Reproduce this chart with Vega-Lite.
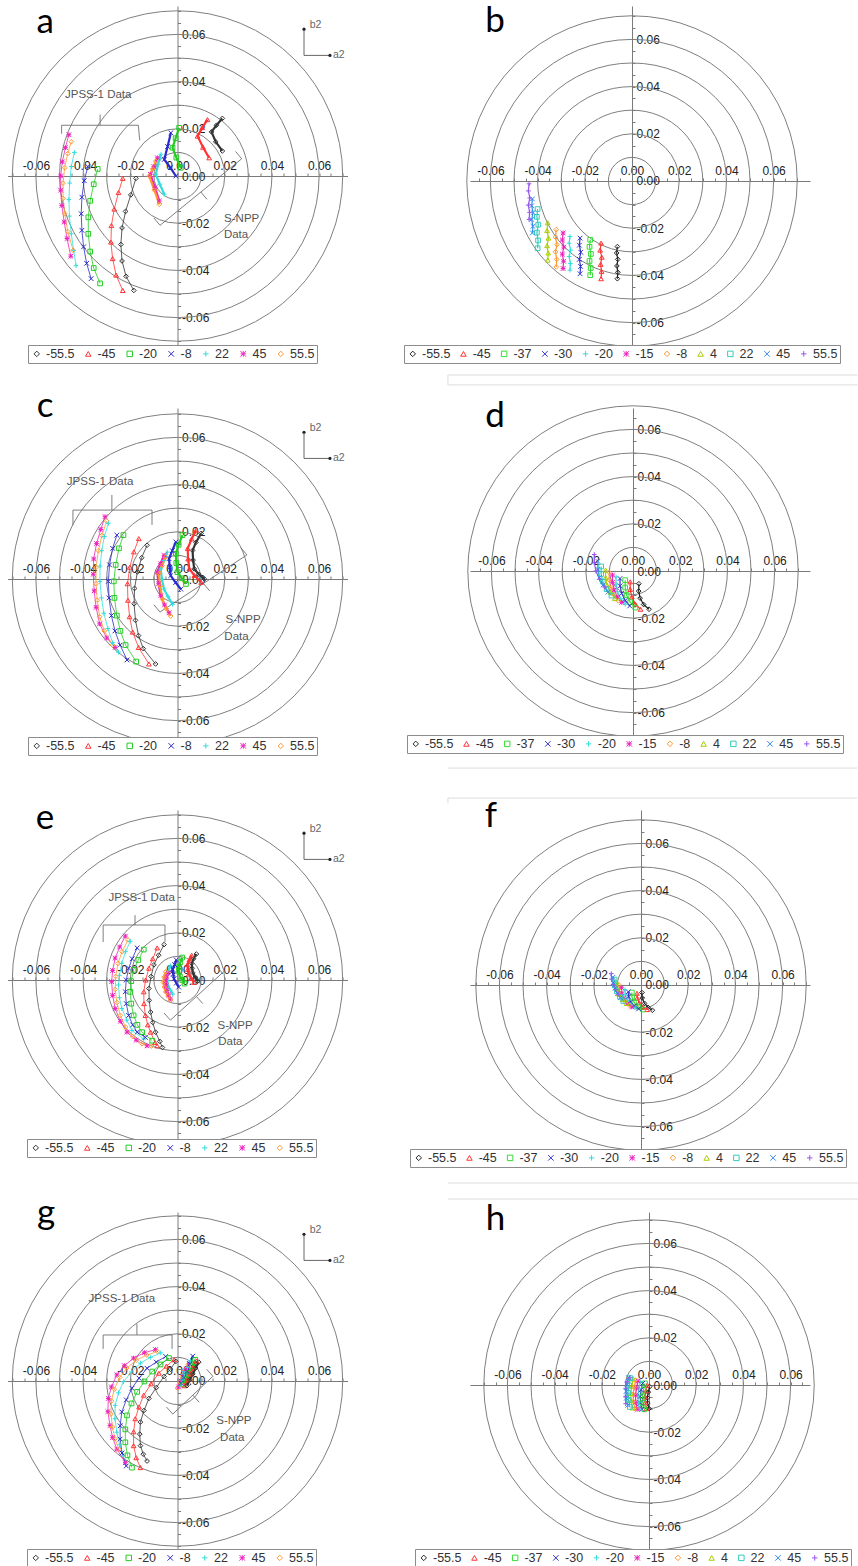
{
"$schema":"https://vega.github.io/schema/vega-lite/v6.json",
"background":"white",
"padding":{"left":7.5,"top":4,"right":0,"bottom":0},
"config":{"view":{"stroke":null},"axis":{"grid":false}},
"datasets":{
"rings":[{"x":0,"y":0,"r":1},{"x":0,"y":0,"r":2},{"x":0,"y":0,"r":3},{"x":0,"y":0,"r":4},{"x":0,"y":0,"r":5},{"x":0,"y":0,"r":6},{"x":0,"y":0,"r":7}],
"letters":[{"p":"a","t":"a","x":-5.61,"y":6.05},{"p":"b","t":"b","x":-5.8,"y":6.3},{"p":"c","t":"c","x":-5.61,"y":6.86},{"p":"d","t":"d","x":-5.85,"y":6.1},{"p":"e","t":"e","x":-5.61,"y":6.4},{"p":"f","t":"f","x":-6.36,"y":6.7},{"p":"g","t":"g","x":-5.57,"y":6.65},{"p":"h","t":"h","x":-6.5,"y":6.57}],
"notes":[
{"p":"a","t":"JPSS-1 Data","x":-3.36,"y":3.45},{"p":"a","t":"S-NPP","x":2.72,"y":-1.81},{"p":"a","t":"Data","x":2.48,"y":-2.51},
{"p":"c","t":"JPSS-1 Data","x":-3.28,"y":4.11},{"p":"c","t":"S-NPP","x":2.78,"y":-1.75},{"p":"c","t":"Data","x":2.5,"y":-2.46},
{"p":"e","t":"JPSS-1 Data","x":-1.52,"y":3.47},{"p":"e","t":"S-NPP","x":2.44,"y":-1.95},{"p":"e","t":"Data","x":2.24,"y":-2.63},
{"p":"g","t":"JPSS-1 Data","x":-2.36,"y":3.49},{"p":"g","t":"S-NPP","x":2.39,"y":-1.71},{"p":"g","t":"Data","x":2.32,"y":-2.42}],
"brk":[
{"p":"a","x":-4.91,"y":1.79,"x2":-4.91,"y2":2.15},{"p":"a","x":-4.91,"y":2.15,"x2":-1.66,"y2":2.15},{"p":"a","x":-1.66,"y":2.15,"x2":-1.6,"y2":1.51},{"p":"a","x":-3.28,"y":2.15,"x2":-3.28,"y2":2.6},
{"p":"a","x":2.72,"y":0.73,"x2":-0.74,"y2":-2.09},{"p":"a","x":2.72,"y":0.73,"x2":2.46,"y2":1.04},{"p":"a","x":-0.74,"y":-2.09,"x2":-1.0,"y2":-1.78},{"p":"a","x":0.99,"y":-0.68,"x2":1.25,"y2":-0.99},
{"p":"c","x":-4.43,"y":2.29,"x2":-4.43,"y2":2.92},{"p":"c","x":-4.43,"y":2.92,"x2":-1.08,"y2":2.92},{"p":"c","x":-1.08,"y":2.92,"x2":-1.08,"y2":2.29},{"p":"c","x":-2.78,"y":2.92,"x2":-2.78,"y2":3.56},
{"p":"c","x":2.94,"y":1.02,"x2":-0.74,"y2":-1.4},{"p":"c","x":2.94,"y":1.02,"x2":2.68,"y2":1.33},{"p":"c","x":-0.74,"y":-1.4,"x2":-1.0,"y2":-1.09},{"p":"c","x":1.1,"y":-0.19,"x2":1.36,"y2":-0.5},
{"p":"e","x":-3.15,"y":1.61,"x2":-3.15,"y2":2.33},{"p":"e","x":-3.15,"y":2.33,"x2":-0.53,"y2":2.33},{"p":"e","x":-0.53,"y":2.33,"x2":-0.53,"y2":1.61},{"p":"e","x":-1.8,"y":2.33,"x2":-1.8,"y2":2.75},
{"p":"e","x":1.9,"y":0.3,"x2":-0.3,"y2":-1.7},{"p":"e","x":1.9,"y":0.3,"x2":1.63,"y2":0.6},{"p":"e","x":-0.3,"y":-1.7,"x2":-0.57,"y2":-1.4},{"p":"e","x":0.8,"y":-0.7,"x2":1.07,"y2":-1.0},
{"p":"g","x":-3.15,"y":1.36,"x2":-3.15,"y2":1.95},{"p":"g","x":-3.15,"y":1.95,"x2":-0.23,"y2":1.95},{"p":"g","x":-0.23,"y":1.95,"x2":-0.23,"y2":1.36},{"p":"g","x":-1.72,"y":1.95,"x2":-1.72,"y2":2.42},
{"p":"g","x":1.5,"y":0.2,"x2":-0.2,"y2":-1.4},{"p":"g","x":1.5,"y":0.2,"x2":1.23,"y2":0.5},{"p":"g","x":-0.2,"y":-1.4,"x2":-0.47,"y2":-1.1},{"p":"g","x":0.65,"y":-0.6,"x2":0.92,"y2":-0.9}],
"stray":[
{"p":"b","x":-7.8,"y":-8.22,"x2":9.55,"y2":-8.22},{"p":"b","x":-7.8,"y":-8.64,"x2":9.55,"y2":-8.64},{"p":"b","x":-7.8,"y":-8.22,"x2":-7.8,"y2":-8.64},
{"p":"d","x":-7.84,"y":-8.35,"x2":9.5,"y2":-8.35},
{"p":"f","x":-8.18,"y":7.92,"x2":9.15,"y2":7.92},{"p":"f","x":-8.18,"y":7.92,"x2":-8.18,"y2":7.7},
{"p":"h","x":-8.52,"y":8.56,"x2":8.95,"y2":8.56},{"p":"h","x":-8.52,"y":7.88,"x2":8.95,"y2":7.88}],
"ind":[{"x":5.36,"y":6.22,"x2":5.36,"y2":5.11},{"x":5.36,"y":5.11,"x2":6.46,"y2":5.11}],
"inddots":[{"x":5.36,"y":6.22},{"x":6.46,"y":5.11}],
"indlab":[{"t":"b2","x":5.6,"y":6.39},{"t":"a2","x":6.59,"y":5.11}],
"pts":[
{"p":"a","g":"J","s":"45","x":-4.6,"y":1.75},{"p":"a","g":"J","s":"45","x":-4.75,"y":1.2},{"p":"a","g":"J","s":"45","x":-4.88,"y":0.6},{"p":"a","g":"J","s":"45","x":-4.95,"y":0},{"p":"a","g":"J","s":"45","x":-4.95,"y":-0.6},{"p":"a","g":"J","s":"45","x":-4.9,"y":-1.25},{"p":"a","g":"J","s":"45","x":-4.8,"y":-1.95},{"p":"a","g":"J","s":"45","x":-4.68,"y":-2.65},{"p":"a","g":"J","s":"45","x":-4.52,"y":-3.4},
{"p":"a","g":"J","s":"55.5","x":-4.5,"y":1.45},{"p":"a","g":"J","s":"55.5","x":-4.65,"y":0.95},{"p":"a","g":"J","s":"55.5","x":-4.78,"y":0.35},{"p":"a","g":"J","s":"55.5","x":-4.85,"y":-0.3},{"p":"a","g":"J","s":"55.5","x":-4.85,"y":-0.95},{"p":"a","g":"J","s":"55.5","x":-4.78,"y":-1.6},{"p":"a","g":"J","s":"55.5","x":-4.65,"y":-2.35},{"p":"a","g":"J","s":"55.5","x":-4.42,"y":-3.15},
{"p":"a","g":"J","s":"22","x":-4.37,"y":1},{"p":"a","g":"J","s":"22","x":-4.5,"y":0.4},{"p":"a","g":"J","s":"22","x":-4.57,"y":-0.3},{"p":"a","g":"J","s":"22","x":-4.6,"y":-1},{"p":"a","g":"J","s":"22","x":-4.58,"y":-1.7},{"p":"a","g":"J","s":"22","x":-4.5,"y":-2.45},{"p":"a","g":"J","s":"22","x":-4.4,"y":-3.15},{"p":"a","g":"J","s":"22","x":-4.3,"y":-3.8},
{"p":"a","g":"J","s":"-8","x":-3.8,"y":0.4},{"p":"a","g":"J","s":"-8","x":-3.95,"y":-0.2},{"p":"a","g":"J","s":"-8","x":-4.05,"y":-0.9},{"p":"a","g":"J","s":"-8","x":-4.08,"y":-1.6},{"p":"a","g":"J","s":"-8","x":-4.05,"y":-2.3},{"p":"a","g":"J","s":"-8","x":-3.98,"y":-3},{"p":"a","g":"J","s":"-8","x":-3.85,"y":-3.7},{"p":"a","g":"J","s":"-8","x":-3.66,"y":-4.35},
{"p":"a","g":"J","s":"-20","x":-3.38,"y":0.3},{"p":"a","g":"J","s":"-20","x":-3.55,"y":-0.35},{"p":"a","g":"J","s":"-20","x":-3.7,"y":-1.05},{"p":"a","g":"J","s":"-20","x":-3.78,"y":-1.75},{"p":"a","g":"J","s":"-20","x":-3.78,"y":-2.45},{"p":"a","g":"J","s":"-20","x":-3.7,"y":-3.2},{"p":"a","g":"J","s":"-20","x":-3.55,"y":-3.9},{"p":"a","g":"J","s":"-20","x":-3.28,"y":-4.55},
{"p":"a","g":"J","s":"-45","x":-2.32,"y":-0.1},{"p":"a","g":"J","s":"-45","x":-2.5,"y":-0.7},{"p":"a","g":"J","s":"-45","x":-2.68,"y":-1.4},{"p":"a","g":"J","s":"-45","x":-2.8,"y":-2.1},{"p":"a","g":"J","s":"-45","x":-2.82,"y":-2.8},{"p":"a","g":"J","s":"-45","x":-2.75,"y":-3.5},{"p":"a","g":"J","s":"-45","x":-2.6,"y":-4.2},{"p":"a","g":"J","s":"-45","x":-2.32,"y":-4.85},
{"p":"a","g":"J","s":"-55.5","x":-1.76,"y":-0.1},{"p":"a","g":"J","s":"-55.5","x":-1.98,"y":-0.8},{"p":"a","g":"J","s":"-55.5","x":-2.2,"y":-1.5},{"p":"a","g":"J","s":"-55.5","x":-2.35,"y":-2.2},{"p":"a","g":"J","s":"-55.5","x":-2.4,"y":-2.9},{"p":"a","g":"J","s":"-55.5","x":-2.35,"y":-3.6},{"p":"a","g":"J","s":"-55.5","x":-2.18,"y":-4.25},{"p":"a","g":"J","s":"-55.5","x":-1.85,"y":-4.85},
{"p":"a","g":"S","s":"-55.5","x":1.9,"y":2.44},{"p":"a","g":"S","s":"-55.5","x":1.65,"y":2.15},{"p":"a","g":"S","s":"-55.5","x":1.44,"y":1.87},{"p":"a","g":"S","s":"-55.5","x":1.62,"y":1.45},{"p":"a","g":"S","s":"-55.5","x":1.9,"y":1.06},
{"p":"a","g":"S","s":"-45","x":1.27,"y":2.39},{"p":"a","g":"S","s":"-45","x":1.05,"y":2.05},{"p":"a","g":"S","s":"-45","x":0.85,"y":1.69},{"p":"a","g":"S","s":"-45","x":1.08,"y":1.22},{"p":"a","g":"S","s":"-45","x":1.34,"y":0.77},
{"p":"a","g":"S","s":"-20","x":0.07,"y":2.04},{"p":"a","g":"S","s":"-20","x":-0.08,"y":1.6},{"p":"a","g":"S","s":"-20","x":-0.21,"y":1.2},{"p":"a","g":"S","s":"-20","x":-0.05,"y":0.78},{"p":"a","g":"S","s":"-20","x":0.14,"y":0.35},
{"p":"a","g":"S","s":"-8","x":-0.28,"y":1.83},{"p":"a","g":"S","s":"-8","x":-0.42,"y":1.25},{"p":"a","g":"S","s":"-8","x":-0.56,"y":0.7},{"p":"a","g":"S","s":"-8","x":-0.3,"y":0.35},{"p":"a","g":"S","s":"-8","x":-0.07,"y":0},
{"p":"a","g":"S","s":"22","x":-0.7,"y":0.92},{"p":"a","g":"S","s":"22","x":-0.82,"y":0.5},{"p":"a","g":"S","s":"22","x":-0.92,"y":0.07},{"p":"a","g":"S","s":"22","x":-0.75,"y":-0.35},{"p":"a","g":"S","s":"22","x":-0.56,"y":-0.77},
{"p":"a","g":"S","s":"45","x":-0.85,"y":0.77},{"p":"a","g":"S","s":"45","x":-1,"y":0.4},{"p":"a","g":"S","s":"45","x":-1.15,"y":0.07},{"p":"a","g":"S","s":"45","x":-0.95,"y":-0.5},{"p":"a","g":"S","s":"45","x":-0.77,"y":-1.06},
{"p":"a","g":"S","s":"55.5","x":-0.92,"y":0.63},{"p":"a","g":"S","s":"55.5","x":-1.05,"y":0.3},{"p":"a","g":"S","s":"55.5","x":-1.2,"y":0},{"p":"a","g":"S","s":"55.5","x":-0.98,"y":-0.6},{"p":"a","g":"S","s":"55.5","x":-0.77,"y":-1.2},

{"p":"c","g":"J","s":"45","x":-3.07,"y":2.64},{"p":"c","g":"J","s":"45","x":-3.25,"y":2.1},{"p":"c","g":"J","s":"45","x":-3.43,"y":1.5},{"p":"c","g":"J","s":"45","x":-3.55,"y":0.85},{"p":"c","g":"J","s":"45","x":-3.57,"y":0.2},{"p":"c","g":"J","s":"45","x":-3.53,"y":-0.5},{"p":"c","g":"J","s":"45","x":-3.45,"y":-1.2},{"p":"c","g":"J","s":"45","x":-3.3,"y":-1.9},{"p":"c","g":"J","s":"45","x":-3,"y":-2.5},{"p":"c","g":"J","s":"45","x":-2.64,"y":-2.9},
{"p":"c","g":"J","s":"55.5","x":-3,"y":2.45},{"p":"c","g":"J","s":"55.5","x":-3.2,"y":1.85},{"p":"c","g":"J","s":"55.5","x":-3.35,"y":1.2},{"p":"c","g":"J","s":"55.5","x":-3.45,"y":0.5},{"p":"c","g":"J","s":"55.5","x":-3.45,"y":-0.2},{"p":"c","g":"J","s":"55.5","x":-3.4,"y":-0.9},{"p":"c","g":"J","s":"55.5","x":-3.3,"y":-1.6},{"p":"c","g":"J","s":"55.5","x":-3.1,"y":-2.2},{"p":"c","g":"J","s":"55.5","x":-2.75,"y":-2.8},
{"p":"c","g":"J","s":"22","x":-2.93,"y":2.36},{"p":"c","g":"J","s":"22","x":-3.1,"y":1.8},{"p":"c","g":"J","s":"22","x":-3.21,"y":1.2},{"p":"c","g":"J","s":"22","x":-3.28,"y":0.55},{"p":"c","g":"J","s":"22","x":-3.29,"y":-0.1},{"p":"c","g":"J","s":"22","x":-3.22,"y":-0.8},{"p":"c","g":"J","s":"22","x":-3.12,"y":-1.45},{"p":"c","g":"J","s":"22","x":-2.95,"y":-2.1},{"p":"c","g":"J","s":"22","x":-2.75,"y":-2.7},{"p":"c","g":"J","s":"22","x":-2.5,"y":-3.1},
{"p":"c","g":"J","s":"-8","x":-2.57,"y":1.86},{"p":"c","g":"J","s":"-8","x":-2.75,"y":1.3},{"p":"c","g":"J","s":"-8","x":-2.88,"y":0.6},{"p":"c","g":"J","s":"-8","x":-2.93,"y":-0.1},{"p":"c","g":"J","s":"-8","x":-2.9,"y":-0.8},{"p":"c","g":"J","s":"-8","x":-2.8,"y":-1.55},{"p":"c","g":"J","s":"-8","x":-2.65,"y":-2.2},{"p":"c","g":"J","s":"-8","x":-2.43,"y":-2.8},{"p":"c","g":"J","s":"-8","x":-2.14,"y":-3.43},
{"p":"c","g":"J","s":"-20","x":-2.29,"y":1.86},{"p":"c","g":"J","s":"-20","x":-2.48,"y":1.3},{"p":"c","g":"J","s":"-20","x":-2.62,"y":0.6},{"p":"c","g":"J","s":"-20","x":-2.7,"y":-0.1},{"p":"c","g":"J","s":"-20","x":-2.67,"y":-0.8},{"p":"c","g":"J","s":"-20","x":-2.57,"y":-1.55},{"p":"c","g":"J","s":"-20","x":-2.42,"y":-2.2},{"p":"c","g":"J","s":"-20","x":-2.2,"y":-2.8},{"p":"c","g":"J","s":"-20","x":-1.75,"y":-3.5},
{"p":"c","g":"J","s":"-45","x":-1.64,"y":1.71},{"p":"c","g":"J","s":"-45","x":-1.85,"y":1.15},{"p":"c","g":"J","s":"-45","x":-2.02,"y":0.5},{"p":"c","g":"J","s":"-45","x":-2.12,"y":-0.2},{"p":"c","g":"J","s":"-45","x":-2.1,"y":-0.9},{"p":"c","g":"J","s":"-45","x":-2.03,"y":-1.6},{"p":"c","g":"J","s":"-45","x":-1.9,"y":-2.25},{"p":"c","g":"J","s":"-45","x":-1.65,"y":-2.9},{"p":"c","g":"J","s":"-45","x":-1.21,"y":-3.6},
{"p":"c","g":"J","s":"-55.5","x":-1.29,"y":1.43},{"p":"c","g":"J","s":"-55.5","x":-1.52,"y":0.9},{"p":"c","g":"J","s":"-55.5","x":-1.7,"y":0.3},{"p":"c","g":"J","s":"-55.5","x":-1.82,"y":-0.4},{"p":"c","g":"J","s":"-55.5","x":-1.84,"y":-1.05},{"p":"c","g":"J","s":"-55.5","x":-1.78,"y":-1.75},{"p":"c","g":"J","s":"-55.5","x":-1.65,"y":-2.4},{"p":"c","g":"J","s":"-55.5","x":-1.45,"y":-2.95},{"p":"c","g":"J","s":"-55.5","x":-0.93,"y":-3.6},
{"p":"c","g":"S","s":"-55.5","x":1,"y":1.93},{"p":"c","g":"S","s":"-55.5","x":0.78,"y":1.55},{"p":"c","g":"S","s":"-55.5","x":0.64,"y":1.21},{"p":"c","g":"S","s":"-55.5","x":0.66,"y":0.8},{"p":"c","g":"S","s":"-55.5","x":0.71,"y":0.43},{"p":"c","g":"S","s":"-55.5","x":0.9,"y":0.2},{"p":"c","g":"S","s":"-55.5","x":1.14,"y":0},
{"p":"c","g":"S","s":"-45","x":0.79,"y":2.07},{"p":"c","g":"S","s":"-45","x":0.6,"y":1.7},{"p":"c","g":"S","s":"-45","x":0.43,"y":1.29},{"p":"c","g":"S","s":"-45","x":0.45,"y":0.85},{"p":"c","g":"S","s":"-45","x":0.5,"y":0.43},{"p":"c","g":"S","s":"-45","x":0.72,"y":0.15},{"p":"c","g":"S","s":"-45","x":1,"y":-0.14},
{"p":"c","g":"S","s":"-20","x":0.21,"y":1.86},{"p":"c","g":"S","s":"-20","x":0.05,"y":1.45},{"p":"c","g":"S","s":"-20","x":-0.07,"y":1.07},{"p":"c","g":"S","s":"-20","x":-0.05,"y":0.68},{"p":"c","g":"S","s":"-20","x":0,"y":0.29},{"p":"c","g":"S","s":"-20","x":0.18,"y":0.03},{"p":"c","g":"S","s":"-20","x":0.36,"y":-0.21},
{"p":"c","g":"S","s":"-8","x":-0.07,"y":1.57},{"p":"c","g":"S","s":"-8","x":-0.22,"y":1.2},{"p":"c","g":"S","s":"-8","x":-0.36,"y":0.86},{"p":"c","g":"S","s":"-8","x":-0.33,"y":0.5},{"p":"c","g":"S","s":"-8","x":-0.29,"y":0.14},{"p":"c","g":"S","s":"-8","x":-0.08,"y":-0.15},{"p":"c","g":"S","s":"-8","x":0.14,"y":-0.43},
{"p":"c","g":"S","s":"22","x":-0.43,"y":1.14},{"p":"c","g":"S","s":"22","x":-0.58,"y":0.78},{"p":"c","g":"S","s":"22","x":-0.71,"y":0.43},{"p":"c","g":"S","s":"22","x":-0.66,"y":0},{"p":"c","g":"S","s":"22","x":-0.57,"y":-0.43},{"p":"c","g":"S","s":"22","x":-0.4,"y":-0.75},{"p":"c","g":"S","s":"22","x":-0.21,"y":-1.07},
{"p":"c","g":"S","s":"45","x":-0.57,"y":1},{"p":"c","g":"S","s":"45","x":-0.72,"y":0.65},{"p":"c","g":"S","s":"45","x":-0.86,"y":0.29},{"p":"c","g":"S","s":"45","x":-0.8,"y":-0.2},{"p":"c","g":"S","s":"45","x":-0.71,"y":-0.71},{"p":"c","g":"S","s":"45","x":-0.55,"y":-1.1},{"p":"c","g":"S","s":"45","x":-0.36,"y":-1.43},
{"p":"c","g":"S","s":"55.5","x":-0.5,"y":0.93},{"p":"c","g":"S","s":"55.5","x":-0.65,"y":0.57},{"p":"c","g":"S","s":"55.5","x":-0.79,"y":0.21},{"p":"c","g":"S","s":"55.5","x":-0.73,"y":-0.3},{"p":"c","g":"S","s":"55.5","x":-0.64,"y":-0.86},{"p":"c","g":"S","s":"55.5","x":-0.48,"y":-1.25},{"p":"c","g":"S","s":"55.5","x":-0.29,"y":-1.57},

{"p":"e","g":"J","s":"45","x":-2.21,"y":1.86},{"p":"e","g":"J","s":"45","x":-2.45,"y":1.4},{"p":"e","g":"J","s":"45","x":-2.64,"y":0.93},{"p":"e","g":"J","s":"45","x":-2.75,"y":0.4},{"p":"e","g":"J","s":"45","x":-2.79,"y":-0.07},{"p":"e","g":"J","s":"45","x":-2.75,"y":-0.65},{"p":"e","g":"J","s":"45","x":-2.64,"y":-1.21},{"p":"e","g":"J","s":"45","x":-2.42,"y":-1.75},{"p":"e","g":"J","s":"45","x":-2.14,"y":-2.21},{"p":"e","g":"J","s":"45","x":-1.75,"y":-2.55},{"p":"e","g":"J","s":"45","x":-1.29,"y":-2.79},
{"p":"e","g":"J","s":"55.5","x":-2.1,"y":1.7},{"p":"e","g":"J","s":"55.5","x":-2.35,"y":1.2},{"p":"e","g":"J","s":"55.5","x":-2.52,"y":0.7},{"p":"e","g":"J","s":"55.5","x":-2.62,"y":0.15},{"p":"e","g":"J","s":"55.5","x":-2.64,"y":-0.4},{"p":"e","g":"J","s":"55.5","x":-2.57,"y":-0.95},{"p":"e","g":"J","s":"55.5","x":-2.42,"y":-1.5},{"p":"e","g":"J","s":"55.5","x":-2.2,"y":-2},{"p":"e","g":"J","s":"55.5","x":-1.9,"y":-2.4},{"p":"e","g":"J","s":"55.5","x":-1.5,"y":-2.7},{"p":"e","g":"J","s":"55.5","x":-1.1,"y":-2.8},
{"p":"e","g":"J","s":"22","x":-2,"y":1.64},{"p":"e","g":"J","s":"22","x":-2.2,"y":1.2},{"p":"e","g":"J","s":"22","x":-2.36,"y":0.71},{"p":"e","g":"J","s":"22","x":-2.46,"y":0.2},{"p":"e","g":"J","s":"22","x":-2.5,"y":-0.21},{"p":"e","g":"J","s":"22","x":-2.46,"y":-0.75},{"p":"e","g":"J","s":"22","x":-2.36,"y":-1.21},{"p":"e","g":"J","s":"22","x":-2.15,"y":-1.7},{"p":"e","g":"J","s":"22","x":-1.93,"y":-2.14},{"p":"e","g":"J","s":"22","x":-1.43,"y":-2.5},
{"p":"e","g":"J","s":"-8","x":-1.71,"y":1.36},{"p":"e","g":"J","s":"-8","x":-1.92,"y":0.9},{"p":"e","g":"J","s":"-8","x":-2.07,"y":0.5},{"p":"e","g":"J","s":"-8","x":-2.17,"y":0},{"p":"e","g":"J","s":"-8","x":-2.21,"y":-0.5},{"p":"e","g":"J","s":"-8","x":-2.17,"y":-1},{"p":"e","g":"J","s":"-8","x":-2.07,"y":-1.5},{"p":"e","g":"J","s":"-8","x":-1.9,"y":-1.9},{"p":"e","g":"J","s":"-8","x":-1.71,"y":-2.21},{"p":"e","g":"J","s":"-8","x":-1.36,"y":-2.43},
{"p":"e","g":"J","s":"-20","x":-1.43,"y":1.29},{"p":"e","g":"J","s":"-20","x":-1.66,"y":0.85},{"p":"e","g":"J","s":"-20","x":-1.86,"y":0.43},{"p":"e","g":"J","s":"-20","x":-1.96,"y":-0.05},{"p":"e","g":"J","s":"-20","x":-2,"y":-0.5},{"p":"e","g":"J","s":"-20","x":-1.96,"y":-1},{"p":"e","g":"J","s":"-20","x":-1.86,"y":-1.5},{"p":"e","g":"J","s":"-20","x":-1.7,"y":-1.9},{"p":"e","g":"J","s":"-20","x":-1.5,"y":-2.21},{"p":"e","g":"J","s":"-20","x":-1.07,"y":-2.57},
{"p":"e","g":"J","s":"-45","x":-0.86,"y":1.36},{"p":"e","g":"J","s":"-45","x":-1.05,"y":0.9},{"p":"e","g":"J","s":"-45","x":-1.21,"y":0.5},{"p":"e","g":"J","s":"-45","x":-1.35,"y":0},{"p":"e","g":"J","s":"-45","x":-1.43,"y":-0.5},{"p":"e","g":"J","s":"-45","x":-1.42,"y":-1},{"p":"e","g":"J","s":"-45","x":-1.36,"y":-1.5},{"p":"e","g":"J","s":"-45","x":-1.26,"y":-1.9},{"p":"e","g":"J","s":"-45","x":-1.14,"y":-2.21},{"p":"e","g":"J","s":"-45","x":-0.95,"y":-2.65},{"p":"e","g":"J","s":"-45","x":-0.86,"y":-2.79},
{"p":"e","g":"J","s":"-55.5","x":-0.57,"y":1.5},{"p":"e","g":"J","s":"-55.5","x":-0.8,"y":1.05},{"p":"e","g":"J","s":"-55.5","x":-1,"y":0.64},{"p":"e","g":"J","s":"-55.5","x":-1.12,"y":0.15},{"p":"e","g":"J","s":"-55.5","x":-1.21,"y":-0.36},{"p":"e","g":"J","s":"-55.5","x":-1.2,"y":-0.86},{"p":"e","g":"J","s":"-55.5","x":-1.14,"y":-1.36},{"p":"e","g":"J","s":"-55.5","x":-1.05,"y":-1.8},{"p":"e","g":"J","s":"-55.5","x":-0.93,"y":-2.21},{"p":"e","g":"J","s":"-55.5","x":-0.75,"y":-2.6},{"p":"e","g":"J","s":"-55.5","x":-0.64,"y":-2.86},
{"p":"e","g":"S","s":"-55.5","x":0.8,"y":1.1},{"p":"e","g":"S","s":"-55.5","x":0.68,"y":0.9},{"p":"e","g":"S","s":"-55.5","x":0.6,"y":0.7},{"p":"e","g":"S","s":"-55.5","x":0.62,"y":0.5},{"p":"e","g":"S","s":"-55.5","x":0.65,"y":0.3},{"p":"e","g":"S","s":"-55.5","x":0.75,"y":0.12},{"p":"e","g":"S","s":"-55.5","x":0.85,"y":-0.05},
{"p":"e","g":"S","s":"-45","x":0.6,"y":1.05},{"p":"e","g":"S","s":"-45","x":0.5,"y":0.85},{"p":"e","g":"S","s":"-45","x":0.42,"y":0.65},{"p":"e","g":"S","s":"-45","x":0.44,"y":0.45},{"p":"e","g":"S","s":"-45","x":0.48,"y":0.25},{"p":"e","g":"S","s":"-45","x":0.58,"y":0.07},{"p":"e","g":"S","s":"-45","x":0.7,"y":-0.1},
{"p":"e","g":"S","s":"-20","x":0.2,"y":0.95},{"p":"e","g":"S","s":"-20","x":0.12,"y":0.75},{"p":"e","g":"S","s":"-20","x":0.05,"y":0.55},{"p":"e","g":"S","s":"-20","x":0.07,"y":0.35},{"p":"e","g":"S","s":"-20","x":0.1,"y":0.15},{"p":"e","g":"S","s":"-20","x":0.2,"y":0},{"p":"e","g":"S","s":"-20","x":0.3,"y":-0.15},
{"p":"e","g":"S","s":"-8","x":-0.05,"y":0.85},{"p":"e","g":"S","s":"-8","x":-0.12,"y":0.65},{"p":"e","g":"S","s":"-8","x":-0.2,"y":0.45},{"p":"e","g":"S","s":"-8","x":-0.18,"y":0.25},{"p":"e","g":"S","s":"-8","x":-0.15,"y":0.05},{"p":"e","g":"S","s":"-8","x":-0.05,"y":-0.13},{"p":"e","g":"S","s":"-8","x":0.05,"y":-0.3},
{"p":"e","g":"S","s":"22","x":-0.3,"y":0.6},{"p":"e","g":"S","s":"22","x":-0.38,"y":0.4},{"p":"e","g":"S","s":"22","x":-0.45,"y":0.2},{"p":"e","g":"S","s":"22","x":-0.43,"y":-0.03},{"p":"e","g":"S","s":"22","x":-0.4,"y":-0.25},{"p":"e","g":"S","s":"22","x":-0.3,"y":-0.43},{"p":"e","g":"S","s":"22","x":-0.2,"y":-0.6},
{"p":"e","g":"S","s":"45","x":-0.4,"y":0.3},{"p":"e","g":"S","s":"45","x":-0.46,"y":0.12},{"p":"e","g":"S","s":"45","x":-0.5,"y":-0.05},{"p":"e","g":"S","s":"45","x":-0.48,"y":-0.25},{"p":"e","g":"S","s":"45","x":-0.45,"y":-0.45},{"p":"e","g":"S","s":"45","x":-0.38,"y":-0.63},{"p":"e","g":"S","s":"45","x":-0.3,"y":-0.8},
{"p":"e","g":"S","s":"55.5","x":-0.5,"y":0.35},{"p":"e","g":"S","s":"55.5","x":-0.57,"y":0.12},{"p":"e","g":"S","s":"55.5","x":-0.6,"y":-0.1},{"p":"e","g":"S","s":"55.5","x":-0.56,"y":-0.3},{"p":"e","g":"S","s":"55.5","x":-0.5,"y":-0.5},{"p":"e","g":"S","s":"55.5","x":-0.4,"y":-0.68},{"p":"e","g":"S","s":"55.5","x":-0.3,"y":-0.85},

{"p":"g","g":"J","s":"45","x":-0.93,"y":1.33},{"p":"g","g":"J","s":"45","x":-1.4,"y":1.2},{"p":"g","g":"J","s":"45","x":-1.86,"y":0.97},{"p":"g","g":"J","s":"45","x":-2.25,"y":0.65},{"p":"g","g":"J","s":"45","x":-2.57,"y":0.26},{"p":"g","g":"J","s":"45","x":-2.8,"y":-0.25},{"p":"g","g":"J","s":"45","x":-2.93,"y":-0.74},{"p":"g","g":"J","s":"45","x":-2.95,"y":-1.3},{"p":"g","g":"J","s":"45","x":-2.86,"y":-1.89},{"p":"g","g":"J","s":"45","x":-2.75,"y":-2.4},{"p":"g","g":"J","s":"45","x":-2.57,"y":-2.89},{"p":"g","g":"J","s":"45","x":-2.21,"y":-3.46},
{"p":"g","g":"J","s":"55.5","x":-0.85,"y":1.25},{"p":"g","g":"J","s":"55.5","x":-1.3,"y":1.1},{"p":"g","g":"J","s":"55.5","x":-1.75,"y":0.88},{"p":"g","g":"J","s":"55.5","x":-2.15,"y":0.55},{"p":"g","g":"J","s":"55.5","x":-2.45,"y":0.15},{"p":"g","g":"J","s":"55.5","x":-2.68,"y":-0.35},{"p":"g","g":"J","s":"55.5","x":-2.8,"y":-0.85},{"p":"g","g":"J","s":"55.5","x":-2.82,"y":-1.4},{"p":"g","g":"J","s":"55.5","x":-2.76,"y":-1.95},{"p":"g","g":"J","s":"55.5","x":-2.65,"y":-2.45},{"p":"g","g":"J","s":"55.5","x":-2.48,"y":-2.9},
{"p":"g","g":"J","s":"22","x":-0.71,"y":1.19},{"p":"g","g":"J","s":"22","x":-1.15,"y":1},{"p":"g","g":"J","s":"22","x":-1.57,"y":0.76},{"p":"g","g":"J","s":"22","x":-1.95,"y":0.38},{"p":"g","g":"J","s":"22","x":-2.29,"y":-0.03},{"p":"g","g":"J","s":"22","x":-2.5,"y":-0.5},{"p":"g","g":"J","s":"22","x":-2.64,"y":-1.03},{"p":"g","g":"J","s":"22","x":-2.65,"y":-1.6},{"p":"g","g":"J","s":"22","x":-2.57,"y":-2.17},{"p":"g","g":"J","s":"22","x":-2.45,"y":-2.7},{"p":"g","g":"J","s":"22","x":-2.29,"y":-3.17},
{"p":"g","g":"J","s":"-8","x":-0.5,"y":1.04},{"p":"g","g":"J","s":"-8","x":-0.9,"y":0.8},{"p":"g","g":"J","s":"-8","x":-1.29,"y":0.54},{"p":"g","g":"J","s":"-8","x":-1.63,"y":0.12},{"p":"g","g":"J","s":"-8","x":-1.93,"y":-0.31},{"p":"g","g":"J","s":"-8","x":-2.17,"y":-0.8},{"p":"g","g":"J","s":"-8","x":-2.36,"y":-1.31},{"p":"g","g":"J","s":"-8","x":-2.43,"y":-1.9},{"p":"g","g":"J","s":"-8","x":-2.43,"y":-2.46},{"p":"g","g":"J","s":"-8","x":-2.35,"y":-3.05},{"p":"g","g":"J","s":"-8","x":-2.17,"y":-3.6},
{"p":"g","g":"J","s":"-20","x":-0.36,"y":0.97},{"p":"g","g":"J","s":"-20","x":-0.72,"y":0.7},{"p":"g","g":"J","s":"-20","x":-1.07,"y":0.4},{"p":"g","g":"J","s":"-20","x":-1.4,"y":-0.02},{"p":"g","g":"J","s":"-20","x":-1.71,"y":-0.46},{"p":"g","g":"J","s":"-20","x":-1.95,"y":-0.95},{"p":"g","g":"J","s":"-20","x":-2.14,"y":-1.46},{"p":"g","g":"J","s":"-20","x":-2.21,"y":-2.05},{"p":"g","g":"J","s":"-20","x":-2.21,"y":-2.6},{"p":"g","g":"J","s":"-20","x":-2.12,"y":-3.15},{"p":"g","g":"J","s":"-20","x":-1.93,"y":-3.67},
{"p":"g","g":"J","s":"-45","x":-0.14,"y":0.9},{"p":"g","g":"J","s":"-45","x":-0.47,"y":0.63},{"p":"g","g":"J","s":"-45","x":-0.79,"y":0.33},{"p":"g","g":"J","s":"-45","x":-1.12,"y":-0.12},{"p":"g","g":"J","s":"-45","x":-1.43,"y":-0.6},{"p":"g","g":"J","s":"-45","x":-1.63,"y":-1.1},{"p":"g","g":"J","s":"-45","x":-1.79,"y":-1.6},{"p":"g","g":"J","s":"-45","x":-1.86,"y":-2.15},{"p":"g","g":"J","s":"-45","x":-1.86,"y":-2.74},{"p":"g","g":"J","s":"-45","x":-1.75,"y":-3.25},{"p":"g","g":"J","s":"-45","x":-1.57,"y":-3.67},
{"p":"g","g":"J","s":"-55.5","x":-0.07,"y":0.83},{"p":"g","g":"J","s":"-55.5","x":-0.3,"y":0.5},{"p":"g","g":"J","s":"-55.5","x":-0.57,"y":0.19},{"p":"g","g":"J","s":"-55.5","x":-0.9,"y":-0.28},{"p":"g","g":"J","s":"-55.5","x":-1.21,"y":-0.74},{"p":"g","g":"J","s":"-55.5","x":-1.42,"y":-1.25},{"p":"g","g":"J","s":"-55.5","x":-1.57,"y":-1.74},{"p":"g","g":"J","s":"-55.5","x":-1.6,"y":-2.25},{"p":"g","g":"J","s":"-55.5","x":-1.57,"y":-2.74},{"p":"g","g":"J","s":"-55.5","x":-1.45,"y":-3.1},{"p":"g","g":"J","s":"-55.5","x":-1.29,"y":-3.39},
{"p":"g","g":"S","s":"55.5","x":0,"y":-0.3},{"p":"g","g":"S","s":"55.5","x":0.1,"y":-0.05},{"p":"g","g":"S","s":"55.5","x":0.2,"y":0.2},{"p":"g","g":"S","s":"55.5","x":0.32,"y":0.45},{"p":"g","g":"S","s":"55.5","x":0.45,"y":0.7},
{"p":"g","g":"S","s":"45","x":0.05,"y":-0.25},{"p":"g","g":"S","s":"45","x":0.15,"y":0},{"p":"g","g":"S","s":"45","x":0.25,"y":0.25},{"p":"g","g":"S","s":"45","x":0.37,"y":0.5},{"p":"g","g":"S","s":"45","x":0.5,"y":0.75},
{"p":"g","g":"S","s":"22","x":0.1,"y":-0.2},{"p":"g","g":"S","s":"22","x":0.2,"y":0.05},{"p":"g","g":"S","s":"22","x":0.3,"y":0.3},{"p":"g","g":"S","s":"22","x":0.42,"y":0.58},{"p":"g","g":"S","s":"22","x":0.55,"y":0.85},
{"p":"g","g":"S","s":"-8","x":0.15,"y":-0.1},{"p":"g","g":"S","s":"-8","x":0.27,"y":0.15},{"p":"g","g":"S","s":"-8","x":0.4,"y":0.4},{"p":"g","g":"S","s":"-8","x":0.52,"y":0.72},{"p":"g","g":"S","s":"-8","x":0.65,"y":1.05},
{"p":"g","g":"S","s":"-20","x":0.25,"y":-0.15},{"p":"g","g":"S","s":"-20","x":0.37,"y":0.1},{"p":"g","g":"S","s":"-20","x":0.5,"y":0.35},{"p":"g","g":"S","s":"-20","x":0.62,"y":0.62},{"p":"g","g":"S","s":"-20","x":0.75,"y":0.9},
{"p":"g","g":"S","s":"-45","x":0.3,"y":-0.2},{"p":"g","g":"S","s":"-45","x":0.42,"y":0.05},{"p":"g","g":"S","s":"-45","x":0.55,"y":0.3},{"p":"g","g":"S","s":"-45","x":0.67,"y":0.58},{"p":"g","g":"S","s":"-45","x":0.8,"y":0.85},
{"p":"g","g":"S","s":"-55.5","x":0.4,"y":-0.2},{"p":"g","g":"S","s":"-55.5","x":0.52,"y":0.05},{"p":"g","g":"S","s":"-55.5","x":0.65,"y":0.3},{"p":"g","g":"S","s":"-55.5","x":0.77,"y":0.55},{"p":"g","g":"S","s":"-55.5","x":0.9,"y":0.8},

{"p":"b","g":"R","s":"-55.5","x":-0.62,"y":-2.78},{"p":"b","g":"R","s":"-55.5","x":-0.65,"y":-3.05},{"p":"b","g":"R","s":"-55.5","x":-0.6,"y":-3.32},{"p":"b","g":"R","s":"-55.5","x":-0.64,"y":-3.6},{"p":"b","g":"R","s":"-55.5","x":-0.6,"y":-3.87},{"p":"b","g":"R","s":"-55.5","x":-0.62,"y":-4.14},
{"p":"b","g":"R","s":"-45","x":-1.31,"y":-2.63},{"p":"b","g":"R","s":"-45","x":-1.35,"y":-2.93},{"p":"b","g":"R","s":"-45","x":-1.28,"y":-3.23},{"p":"b","g":"R","s":"-45","x":-1.33,"y":-3.53},{"p":"b","g":"R","s":"-45","x":-1.29,"y":-3.83},{"p":"b","g":"R","s":"-45","x":-1.31,"y":-4.14},
{"p":"b","g":"R","s":"-37","x":-1.77,"y":-2.49},{"p":"b","g":"R","s":"-37","x":-1.8,"y":-2.79},{"p":"b","g":"R","s":"-37","x":-1.74,"y":-3.09},{"p":"b","g":"R","s":"-37","x":-1.8,"y":-3.39},{"p":"b","g":"R","s":"-37","x":-1.75,"y":-3.69},{"p":"b","g":"R","s":"-37","x":-1.77,"y":-3.99},
{"p":"b","g":"R","s":"-30","x":-2.2,"y":-2.42},{"p":"b","g":"R","s":"-30","x":-2.23,"y":-2.72},{"p":"b","g":"R","s":"-30","x":-2.17,"y":-3.02},{"p":"b","g":"R","s":"-30","x":-2.23,"y":-3.32},{"p":"b","g":"R","s":"-30","x":-2.18,"y":-3.62},{"p":"b","g":"R","s":"-30","x":-2.2,"y":-3.93},
{"p":"b","g":"R","s":"-20","x":-2.63,"y":-2.35},{"p":"b","g":"R","s":"-20","x":-2.66,"y":-2.64},{"p":"b","g":"R","s":"-20","x":-2.6,"y":-2.93},{"p":"b","g":"R","s":"-20","x":-2.66,"y":-3.2},{"p":"b","g":"R","s":"-20","x":-2.61,"y":-3.5},{"p":"b","g":"R","s":"-20","x":-2.63,"y":-3.78},
{"p":"b","g":"R","s":"-15","x":-2.92,"y":-2.2},{"p":"b","g":"R","s":"-15","x":-2.95,"y":-2.5},{"p":"b","g":"R","s":"-15","x":-2.89,"y":-2.8},{"p":"b","g":"R","s":"-15","x":-2.95,"y":-3.1},{"p":"b","g":"R","s":"-15","x":-2.9,"y":-3.4},{"p":"b","g":"R","s":"-15","x":-2.92,"y":-3.71},
{"p":"b","g":"R","s":"-8","x":-3.21,"y":-2.06},{"p":"b","g":"R","s":"-8","x":-3.24,"y":-2.38},{"p":"b","g":"R","s":"-8","x":-3.18,"y":-2.7},{"p":"b","g":"R","s":"-8","x":-3.24,"y":-3},{"p":"b","g":"R","s":"-8","x":-3.19,"y":-3.32},{"p":"b","g":"R","s":"-8","x":-3.21,"y":-3.64},
{"p":"b","g":"R","s":"4","x":-3.57,"y":-1.77},{"p":"b","g":"R","s":"4","x":-3.6,"y":-2.1},{"p":"b","g":"R","s":"4","x":-3.54,"y":-2.42},{"p":"b","g":"R","s":"4","x":-3.6,"y":-2.74},{"p":"b","g":"R","s":"4","x":-3.55,"y":-3.05},{"p":"b","g":"R","s":"4","x":-3.57,"y":-3.35},
{"p":"b","g":"R","s":"22","x":-4,"y":-1.19},{"p":"b","g":"R","s":"22","x":-4.03,"y":-1.52},{"p":"b","g":"R","s":"22","x":-3.97,"y":-1.85},{"p":"b","g":"R","s":"22","x":-4.03,"y":-2.19},{"p":"b","g":"R","s":"22","x":-3.98,"y":-2.52},{"p":"b","g":"R","s":"22","x":-4,"y":-2.85},
{"p":"b","g":"R","s":"45","x":-4.22,"y":-0.76},{"p":"b","g":"R","s":"45","x":-4.25,"y":-1.05},{"p":"b","g":"R","s":"45","x":-4.19,"y":-1.34},{"p":"b","g":"R","s":"45","x":-4.25,"y":-1.63},{"p":"b","g":"R","s":"45","x":-4.2,"y":-1.92},{"p":"b","g":"R","s":"45","x":-4.22,"y":-2.2},
{"p":"b","g":"R","s":"55.5","x":-4.36,"y":-0.12},{"p":"b","g":"R","s":"55.5","x":-4.39,"y":-0.42},{"p":"b","g":"R","s":"55.5","x":-4.33,"y":-0.72},{"p":"b","g":"R","s":"55.5","x":-4.39,"y":-1.02},{"p":"b","g":"R","s":"55.5","x":-4.34,"y":-1.33},{"p":"b","g":"R","s":"55.5","x":-4.36,"y":-1.63},

{"p":"d","g":"R","s":"-55.5","x":0.25,"y":-0.54},{"p":"d","g":"R","s":"-55.5","x":0.24,"y":-0.85},{"p":"d","g":"R","s":"-55.5","x":0.3,"y":-1.15},{"p":"d","g":"R","s":"-55.5","x":0.45,"y":-1.42},{"p":"d","g":"R","s":"-55.5","x":0.68,"y":-1.62},
{"p":"d","g":"R","s":"-45","x":-0.12,"y":-0.46},{"p":"d","g":"R","s":"-45","x":-0.12,"y":-0.78},{"p":"d","g":"R","s":"-45","x":-0.05,"y":-1.1},{"p":"d","g":"R","s":"-45","x":0.1,"y":-1.4},{"p":"d","g":"R","s":"-45","x":0.32,"y":-1.62},
{"p":"d","g":"R","s":"-37","x":-0.33,"y":-0.39},{"p":"d","g":"R","s":"-37","x":-0.33,"y":-0.7},{"p":"d","g":"R","s":"-37","x":-0.27,"y":-1.02},{"p":"d","g":"R","s":"-37","x":-0.12,"y":-1.32},{"p":"d","g":"R","s":"-37","x":0.1,"y":-1.55},
{"p":"d","g":"R","s":"-30","x":-0.55,"y":-0.32},{"p":"d","g":"R","s":"-30","x":-0.55,"y":-0.63},{"p":"d","g":"R","s":"-30","x":-0.48,"y":-0.95},{"p":"d","g":"R","s":"-30","x":-0.33,"y":-1.25},{"p":"d","g":"R","s":"-30","x":-0.14,"y":-1.48},
{"p":"d","g":"R","s":"-20","x":-0.72,"y":-0.25},{"p":"d","g":"R","s":"-20","x":-0.72,"y":-0.56},{"p":"d","g":"R","s":"-20","x":-0.66,"y":-0.88},{"p":"d","g":"R","s":"-20","x":-0.52,"y":-1.18},{"p":"d","g":"R","s":"-20","x":-0.33,"y":-1.41},
{"p":"d","g":"R","s":"-15","x":-0.87,"y":-0.17},{"p":"d","g":"R","s":"-15","x":-0.87,"y":-0.48},{"p":"d","g":"R","s":"-15","x":-0.8,"y":-0.8},{"p":"d","g":"R","s":"-15","x":-0.66,"y":-1.1},{"p":"d","g":"R","s":"-15","x":-0.48,"y":-1.33},
{"p":"d","g":"R","s":"-8","x":-1.01,"y":-0.06},{"p":"d","g":"R","s":"-8","x":-1.01,"y":-0.38},{"p":"d","g":"R","s":"-8","x":-0.95,"y":-0.7},{"p":"d","g":"R","s":"-8","x":-0.8,"y":-1},{"p":"d","g":"R","s":"-8","x":-0.62,"y":-1.26},
{"p":"d","g":"R","s":"4","x":-1.16,"y":0.04},{"p":"d","g":"R","s":"4","x":-1.16,"y":-0.28},{"p":"d","g":"R","s":"4","x":-1.1,"y":-0.6},{"p":"d","g":"R","s":"4","x":-0.95,"y":-0.9},{"p":"d","g":"R","s":"4","x":-0.77,"y":-1.16},
{"p":"d","g":"R","s":"22","x":-1.35,"y":0.19},{"p":"d","g":"R","s":"22","x":-1.35,"y":-0.13},{"p":"d","g":"R","s":"22","x":-1.28,"y":-0.45},{"p":"d","g":"R","s":"22","x":-1.12,"y":-0.77},{"p":"d","g":"R","s":"22","x":-0.91,"y":-1.04},
{"p":"d","g":"R","s":"45","x":-1.49,"y":0.41},{"p":"d","g":"R","s":"45","x":-1.49,"y":0.07},{"p":"d","g":"R","s":"45","x":-1.42,"y":-0.27},{"p":"d","g":"R","s":"45","x":-1.27,"y":-0.6},{"p":"d","g":"R","s":"45","x":-1.06,"y":-0.9},
{"p":"d","g":"R","s":"55.5","x":-1.64,"y":0.7},{"p":"d","g":"R","s":"55.5","x":-1.64,"y":0.35},{"p":"d","g":"R","s":"55.5","x":-1.57,"y":0},{"p":"d","g":"R","s":"55.5","x":-1.42,"y":-0.35},{"p":"d","g":"R","s":"55.5","x":-1.2,"y":-0.68},

{"p":"f","g":"R","s":"-55.5","x":0.04,"y":-0.32},{"p":"f","g":"R","s":"-55.5","x":0.05,"y":-0.55},{"p":"f","g":"R","s":"-55.5","x":0.15,"y":-0.78},{"p":"f","g":"R","s":"-55.5","x":0.3,"y":-0.95},{"p":"f","g":"R","s":"-55.5","x":0.48,"y":-1.07},
{"p":"f","g":"R","s":"-45","x":-0.17,"y":-0.35},{"p":"f","g":"R","s":"-45","x":-0.16,"y":-0.55},{"p":"f","g":"R","s":"-45","x":-0.07,"y":-0.76},{"p":"f","g":"R","s":"-45","x":0.08,"y":-0.93},{"p":"f","g":"R","s":"-45","x":0.26,"y":-1.04},
{"p":"f","g":"R","s":"-37","x":-0.39,"y":-0.32},{"p":"f","g":"R","s":"-37","x":-0.38,"y":-0.53},{"p":"f","g":"R","s":"-37","x":-0.28,"y":-0.75},{"p":"f","g":"R","s":"-37","x":-0.12,"y":-0.92},{"p":"f","g":"R","s":"-37","x":0.09,"y":-1.04},
{"p":"f","g":"R","s":"-30","x":-0.54,"y":-0.29},{"p":"f","g":"R","s":"-30","x":-0.53,"y":-0.5},{"p":"f","g":"R","s":"-30","x":-0.44,"y":-0.72},{"p":"f","g":"R","s":"-30","x":-0.28,"y":-0.89},{"p":"f","g":"R","s":"-30","x":-0.1,"y":-1.01},
{"p":"f","g":"R","s":"-20","x":-0.68,"y":-0.2},{"p":"f","g":"R","s":"-20","x":-0.67,"y":-0.42},{"p":"f","g":"R","s":"-20","x":-0.58,"y":-0.65},{"p":"f","g":"R","s":"-20","x":-0.42,"y":-0.84},{"p":"f","g":"R","s":"-20","x":-0.25,"y":-0.97},
{"p":"f","g":"R","s":"-15","x":-0.83,"y":-0.1},{"p":"f","g":"R","s":"-15","x":-0.82,"y":-0.33},{"p":"f","g":"R","s":"-15","x":-0.73,"y":-0.57},{"p":"f","g":"R","s":"-15","x":-0.57,"y":-0.78},{"p":"f","g":"R","s":"-15","x":-0.39,"y":-0.93},
{"p":"f","g":"R","s":"-8","x":-0.93,"y":0},{"p":"f","g":"R","s":"-8","x":-0.92,"y":-0.24},{"p":"f","g":"R","s":"-8","x":-0.83,"y":-0.49},{"p":"f","g":"R","s":"-8","x":-0.67,"y":-0.71},{"p":"f","g":"R","s":"-8","x":-0.49,"y":-0.87},
{"p":"f","g":"R","s":"4","x":-1.04,"y":0.12},{"p":"f","g":"R","s":"4","x":-1.03,"y":-0.13},{"p":"f","g":"R","s":"4","x":-0.94,"y":-0.38},{"p":"f","g":"R","s":"4","x":-0.78,"y":-0.61},{"p":"f","g":"R","s":"4","x":-0.61,"y":-0.78},
{"p":"f","g":"R","s":"22","x":-1.12,"y":0.23},{"p":"f","g":"R","s":"22","x":-1.11,"y":-0.02},{"p":"f","g":"R","s":"22","x":-1.02,"y":-0.27},{"p":"f","g":"R","s":"22","x":-0.89,"y":-0.5},{"p":"f","g":"R","s":"22","x":-0.75,"y":-0.68},
{"p":"f","g":"R","s":"45","x":-1.19,"y":0.33},{"p":"f","g":"R","s":"45","x":-1.18,"y":0.1},{"p":"f","g":"R","s":"45","x":-1.1,"y":-0.14},{"p":"f","g":"R","s":"45","x":-0.99,"y":-0.36},{"p":"f","g":"R","s":"45","x":-0.87,"y":-0.54},
{"p":"f","g":"R","s":"55.5","x":-1.26,"y":0.48},{"p":"f","g":"R","s":"55.5","x":-1.25,"y":0.25},{"p":"f","g":"R","s":"55.5","x":-1.18,"y":0.02},{"p":"f","g":"R","s":"55.5","x":-1.08,"y":-0.2},{"p":"f","g":"R","s":"55.5","x":-0.97,"y":-0.39},

{"p":"h","g":"R","s":"-55.5","x":0.03,"y":-0.07},{"p":"h","g":"R","s":"-55.5","x":-0.03,"y":-0.3},{"p":"h","g":"R","s":"-55.5","x":-0.07,"y":-0.54},{"p":"h","g":"R","s":"-55.5","x":-0.06,"y":-0.77},{"p":"h","g":"R","s":"-55.5","x":0,"y":-1},
{"p":"h","g":"R","s":"-45","x":-0.07,"y":0},{"p":"h","g":"R","s":"-45","x":-0.13,"y":-0.25},{"p":"h","g":"R","s":"-45","x":-0.17,"y":-0.5},{"p":"h","g":"R","s":"-45","x":-0.16,"y":-0.74},{"p":"h","g":"R","s":"-45","x":-0.1,"y":-1},
{"p":"h","g":"R","s":"-37","x":-0.17,"y":0.07},{"p":"h","g":"R","s":"-37","x":-0.23,"y":-0.2},{"p":"h","g":"R","s":"-37","x":-0.27,"y":-0.48},{"p":"h","g":"R","s":"-37","x":-0.26,"y":-0.76},{"p":"h","g":"R","s":"-37","x":-0.2,"y":-1.03},
{"p":"h","g":"R","s":"-30","x":-0.27,"y":0.07},{"p":"h","g":"R","s":"-30","x":-0.33,"y":-0.2},{"p":"h","g":"R","s":"-30","x":-0.37,"y":-0.48},{"p":"h","g":"R","s":"-30","x":-0.36,"y":-0.76},{"p":"h","g":"R","s":"-30","x":-0.3,"y":-1.03},
{"p":"h","g":"R","s":"-20","x":-0.37,"y":0.14},{"p":"h","g":"R","s":"-20","x":-0.43,"y":-0.15},{"p":"h","g":"R","s":"-20","x":-0.47,"y":-0.44},{"p":"h","g":"R","s":"-20","x":-0.46,"y":-0.74},{"p":"h","g":"R","s":"-20","x":-0.4,"y":-1.03},
{"p":"h","g":"R","s":"-15","x":-0.47,"y":0.17},{"p":"h","g":"R","s":"-15","x":-0.53,"y":-0.13},{"p":"h","g":"R","s":"-15","x":-0.57,"y":-0.43},{"p":"h","g":"R","s":"-15","x":-0.56,"y":-0.73},{"p":"h","g":"R","s":"-15","x":-0.5,"y":-1.03},
{"p":"h","g":"R","s":"-8","x":-0.57,"y":0.21},{"p":"h","g":"R","s":"-8","x":-0.63,"y":-0.09},{"p":"h","g":"R","s":"-8","x":-0.67,"y":-0.39},{"p":"h","g":"R","s":"-8","x":-0.66,"y":-0.7},{"p":"h","g":"R","s":"-8","x":-0.6,"y":-1},
{"p":"h","g":"R","s":"4","x":-0.67,"y":0.26},{"p":"h","g":"R","s":"4","x":-0.73,"y":-0.05},{"p":"h","g":"R","s":"4","x":-0.77,"y":-0.36},{"p":"h","g":"R","s":"4","x":-0.76,"y":-0.66},{"p":"h","g":"R","s":"4","x":-0.7,"y":-0.97},
{"p":"h","g":"R","s":"22","x":-0.79,"y":0.29},{"p":"h","g":"R","s":"22","x":-0.84,"y":-0.02},{"p":"h","g":"R","s":"22","x":-0.89,"y":-0.33},{"p":"h","g":"R","s":"22","x":-0.87,"y":-0.63},{"p":"h","g":"R","s":"22","x":-0.81,"y":-0.93},
{"p":"h","g":"R","s":"45","x":-0.87,"y":0.31},{"p":"h","g":"R","s":"45","x":-0.93,"y":0.02},{"p":"h","g":"R","s":"45","x":-0.97,"y":-0.27},{"p":"h","g":"R","s":"45","x":-0.96,"y":-0.56},{"p":"h","g":"R","s":"45","x":-0.9,"y":-0.86},
{"p":"h","g":"R","s":"55.5","x":-0.81,"y":0.31},{"p":"h","g":"R","s":"55.5","x":-0.93,"y":0.14},{"p":"h","g":"R","s":"55.5","x":-0.99,"y":-0.14},{"p":"h","g":"R","s":"55.5","x":-1,"y":-0.5},{"p":"h","g":"R","s":"55.5","x":-0.99,"y":-0.79}
]
},
"columns":2,
"spacing":{"row":62,"column":122.5},
"bounds":"flush",
"resolve":{"scale":{"color":"independent","shape":"independent"},"legend":{"color":"independent","shape":"independent"}},
"concat":[
{"width":340,"height":340,
"encoding":{"x":{"field":"x","type":"quantitative","scale":{"domain":[-7.203,7.203],"nice":false,"zero":false},"axis":{"orient":"top","offset":-170,"title":null,"values":[-7,-6.5,-6,-5.5,-5,-4.5,-4,-3.5,-3,-2.5,-2,-1.5,-1,-0.5,0,0.5,1,1.5,2,2.5,3,3.5,4,4.5,5,5.5,6,6.5,7],"labelExpr":"datum.value % 2 == 0 ? replace(format(datum.value/100, '.2f'), '\u2212', '-') : ''","grid":false,"domainColor":"#7a7a7a","tickColor":"#7a7a7a","tickSize":3,"labelPadding":1,"labelFont":"Liberation Sans","labelFontSize":12,"labelColor":"#222222","labelFlush":false,"labelOverlap":false,"labelBound":false}},
"y":{"field":"y","type":"quantitative","scale":{"domain":[-7.203,7.203],"nice":false,"zero":false},"axis":{"orient":"right","offset":-170,"title":null,"values":[-7,-6.5,-6,-5.5,-5,-4.5,-4,-3.5,-3,-2.5,-2,-1.5,-1,-0.5,0,0.5,1,1.5,2,2.5,3,3.5,4,4.5,5,5.5,6,6.5,7],"labelExpr":"datum.value % 2 == 0 ? replace(format(datum.value/100, '.2f'), '\u2212', '-') : ''","grid":false,"domainColor":"#7a7a7a","tickColor":"#7a7a7a","tickSize":3,"labelPadding":1,"labelFont":"Liberation Sans","labelFontSize":12,"labelColor":"#222222","labelFlush":false,"labelOverlap":false,"labelBound":false}}},
"layer":[
{"data":{"name":"rings"},"mark":{"type":"arc","filled":false,"stroke":"#7f7f7f","strokeWidth":1,"theta":0,"theta2":6.2832},"encoding":{"radius":{"field":"r","type":"quantitative","stack":null,"scale":{"type":"linear","domain":[0,10],"range":[0,236],"zero":true,"nice":false}}}},
{"data":{"name":"brk"},"transform":[{"filter":"datum.p=='a'"}],"mark":{"type":"rule","color":"#707070","strokeWidth":0.9},"encoding":{"x2":{"field":"x2"},"y2":{"field":"y2"}}},
{"data":{"name":"notes"},"transform":[{"filter":"datum.p=='a'"}],"mark":{"type":"text","font":"Liberation Sans","fontSize":11.5,"color":"#555555","baseline":"middle"},"encoding":{"text":{"field":"t"}}},
{"data":{"name":"ind"},"mark":{"type":"rule","color":"#555555","strokeWidth":0.9},"encoding":{"x2":{"field":"x2"},"y2":{"field":"y2"}}},
{"data":{"name":"inddots"},"mark":{"type":"point","filled":true,"size":10,"color":"#222222","opacity":1}},
{"data":{"name":"indlab"},"mark":{"type":"text","align":"left","baseline":"middle","font":"Liberation Sans","fontSize":10.5,"color":"#666666"},"encoding":{"text":{"field":"t"}}},
{"data":{"name":"letters"},"transform":[{"filter":"datum.p=='a'"}],"mark":{"type":"text","font":"Lato","fontSize":35,"color":"#000000","baseline":"alphabetic"},"encoding":{"text":{"field":"t"}}},
{"data":{"name":"pts"},"transform":[{"filter":"datum.p=='a' && datum.g=='J'"}],"mark":{"type":"line","strokeWidth":0.8},"encoding":{"color":{"field":"s","type":"nominal","scale":{"domain":["-55.5","-45","-20","-8","22","45","55.5"],"range":["#333333","#ff3333","#22cc22","#2a2acc","#33dddd","#ee22bb","#ff9933"]}},"order":{"value":null}}},
{"data":{"name":"pts"},"transform":[{"filter":"datum.p=='a' && datum.g=='S'"}],"mark":{"type":"line","strokeWidth":2.2},"encoding":{"color":{"field":"s","type":"nominal","scale":{"domain":["-55.5","-45","-20","-8","22","45","55.5"],"range":["#333333","#ff3333","#22cc22","#2a2acc","#33dddd","#ee22bb","#ff9933"]}},"order":{"value":null}}},
{"data":{"name":"pts"},"transform":[{"filter":"datum.p=='a'"}],"mark":{"type":"point","filled":false,"size":22,"strokeWidth":1,"opacity":1},"encoding":{"color":{"field":"s","type":"nominal","scale":{"domain":["-55.5","-45","-20","-8","22","45","55.5"],"range":["#333333","#ff3333","#22cc22","#2a2acc","#33dddd","#ee22bb","#ff9933"]},"legend":{"title":null,"orient":"none","legendX":20.5,"legendY":339,"direction":"horizontal","strokeColor":"#8c8c8c","fillColor":"#ffffff","padding":2.5,"symbolSize":30,"symbolStrokeWidth":1,"labelFont":"Liberation Sans","labelFontSize":12.5,"labelColor":"#333333","columnPadding":7.5,"labelOffset":3}},"shape":{"field":"s","type":"nominal","scale":{"domain":["-55.5","-45","-20","-8","22","45","55.5"],"range":["diamond","triangle-up","square","M-1,-1L1,1M-1,1L1,-1","M-1,0L1,0M0,-1L0,1","M-1,-1L1,1M-1,1L1,-1M-1,0L1,0M0,-1L0,1","diamond"]},"legend":{"title":null,"orient":"none","legendX":20.5,"legendY":339,"direction":"horizontal","strokeColor":"#8c8c8c","fillColor":"#ffffff","padding":2.5,"symbolSize":30,"symbolStrokeWidth":1,"labelFont":"Liberation Sans","labelFontSize":12.5,"labelColor":"#333333","columnPadding":7.5,"labelOffset":3}}}}
]},
{"width":340,"height":340,
"encoding":{"x":{"field":"x","type":"quantitative","scale":{"domain":[-6.864,7.542],"nice":false,"zero":false},"axis":{"orient":"top","offset":-175,"title":null,"values":[-7,-6.5,-6,-5.5,-5,-4.5,-4,-3.5,-3,-2.5,-2,-1.5,-1,-0.5,0,0.5,1,1.5,2,2.5,3,3.5,4,4.5,5,5.5,6,6.5,7],"labelExpr":"datum.value % 2 == 0 ? replace(format(datum.value/100, '.2f'), '\u2212', '-') : ''","grid":false,"domainColor":"#7a7a7a","tickColor":"#7a7a7a","tickSize":3,"labelPadding":1,"labelFont":"Liberation Sans","labelFontSize":12,"labelColor":"#222222","labelFlush":false,"labelOverlap":false,"labelBound":false}},
"y":{"field":"y","type":"quantitative","scale":{"domain":[-6.992,7.415],"nice":false,"zero":false},"axis":{"orient":"right","offset":-178,"title":null,"values":[-7,-6.5,-6,-5.5,-5,-4.5,-4,-3.5,-3,-2.5,-2,-1.5,-1,-0.5,0,0.5,1,1.5,2,2.5,3,3.5,4,4.5,5,5.5,6,6.5,7],"labelExpr":"datum.value % 2 == 0 ? replace(format(datum.value/100, '.2f'), '\u2212', '-') : ''","grid":false,"domainColor":"#7a7a7a","tickColor":"#7a7a7a","tickSize":3,"labelPadding":1,"labelFont":"Liberation Sans","labelFontSize":12,"labelColor":"#222222","labelFlush":false,"labelOverlap":false,"labelBound":false}}},
"layer":[
{"data":{"name":"rings"},"mark":{"type":"arc","filled":false,"stroke":"#7f7f7f","strokeWidth":1,"theta":0,"theta2":6.2832},"encoding":{"radius":{"field":"r","type":"quantitative","stack":null,"scale":{"type":"linear","domain":[0,10],"range":[0,236],"zero":true,"nice":false}}}},
{"data":{"name":"stray"},"transform":[{"filter":"datum.p=='b'"}],"mark":{"type":"rule","color":"#dcdcdc","strokeWidth":1},"encoding":{"x2":{"field":"x2"},"y2":{"field":"y2"}}},
{"data":{"name":"letters"},"transform":[{"filter":"datum.p=='b'"}],"mark":{"type":"text","font":"Lato","fontSize":35,"color":"#000000","baseline":"alphabetic"},"encoding":{"text":{"field":"t"}}},
{"data":{"name":"pts"},"transform":[{"filter":"datum.p=='b'"}],"mark":{"type":"line","strokeWidth":1.2},"encoding":{"color":{"field":"s","type":"nominal","scale":{"domain":["-55.5","-45","-37","-30","-20","-15","-8","4","22","45","55.5"],"range":["#222222","#ff3333","#33dd33","#3333cc","#33dddd","#ee22bb","#ff9933","#aacc00","#33ccbb","#3388ee","#9955ee"]}},"order":{"value":null}}},
{"data":{"name":"pts"},"transform":[{"filter":"datum.p=='b'"}],"mark":{"type":"point","filled":false,"size":22,"strokeWidth":1,"opacity":1},"encoding":{"color":{"field":"s","type":"nominal","scale":{"domain":["-55.5","-45","-37","-30","-20","-15","-8","4","22","45","55.5"],"range":["#222222","#ff3333","#33dd33","#3333cc","#33dddd","#ee22bb","#ff9933","#aacc00","#33ccbb","#3388ee","#9955ee"]},"legend":{"title":null,"orient":"none","legendX":-66,"legendY":339,"direction":"horizontal","strokeColor":"#8c8c8c","fillColor":"#ffffff","padding":2.5,"symbolSize":30,"symbolStrokeWidth":1,"labelFont":"Liberation Sans","labelFontSize":12.5,"labelColor":"#333333","columnPadding":6.7,"labelOffset":3}},"shape":{"field":"s","type":"nominal","scale":{"domain":["-55.5","-45","-37","-30","-20","-15","-8","4","22","45","55.5"],"range":["diamond","triangle-up","square","M-1,-1L1,1M-1,1L1,-1","M-1,0L1,0M0,-1L0,1","M-1,-1L1,1M-1,1L1,-1M-1,0L1,0M0,-1L0,1","diamond","triangle-up","square","M-1,-1L1,1M-1,1L1,-1","M-1,0L1,0M0,-1L0,1"]},"legend":{"title":null,"orient":"none","legendX":-66,"legendY":339,"direction":"horizontal","strokeColor":"#8c8c8c","fillColor":"#ffffff","padding":2.5,"symbolSize":30,"symbolStrokeWidth":1,"labelFont":"Liberation Sans","labelFontSize":12.5,"labelColor":"#333333","columnPadding":6.7,"labelOffset":3}}}}
]},
{"width":340,"height":340,
"encoding":{"x":{"field":"x","type":"quantitative","scale":{"domain":[-7.203,7.203],"nice":false,"zero":false},"axis":{"orient":"top","offset":-171,"title":null,"values":[-7,-6.5,-6,-5.5,-5,-4.5,-4,-3.5,-3,-2.5,-2,-1.5,-1,-0.5,0,0.5,1,1.5,2,2.5,3,3.5,4,4.5,5,5.5,6,6.5,7],"labelExpr":"datum.value % 2 == 0 ? replace(format(datum.value/100, '.2f'), '\u2212', '-') : ''","grid":false,"domainColor":"#7a7a7a","tickColor":"#7a7a7a","tickSize":3,"labelPadding":1,"labelFont":"Liberation Sans","labelFontSize":12,"labelColor":"#222222","labelFlush":false,"labelOverlap":false,"labelBound":false}},
"y":{"field":"y","type":"quantitative","scale":{"domain":[-7.161,7.246],"nice":false,"zero":false},"axis":{"orient":"right","offset":-170,"title":null,"values":[-7,-6.5,-6,-5.5,-5,-4.5,-4,-3.5,-3,-2.5,-2,-1.5,-1,-0.5,0,0.5,1,1.5,2,2.5,3,3.5,4,4.5,5,5.5,6,6.5,7],"labelExpr":"datum.value % 2 == 0 ? replace(format(datum.value/100, '.2f'), '\u2212', '-') : ''","grid":false,"domainColor":"#7a7a7a","tickColor":"#7a7a7a","tickSize":3,"labelPadding":1,"labelFont":"Liberation Sans","labelFontSize":12,"labelColor":"#222222","labelFlush":false,"labelOverlap":false,"labelBound":false}}},
"layer":[
{"data":{"name":"rings"},"mark":{"type":"arc","filled":false,"stroke":"#7f7f7f","strokeWidth":1,"theta":0,"theta2":6.2832},"encoding":{"radius":{"field":"r","type":"quantitative","stack":null,"scale":{"type":"linear","domain":[0,10],"range":[0,236],"zero":true,"nice":false}}}},
{"data":{"name":"brk"},"transform":[{"filter":"datum.p=='c'"}],"mark":{"type":"rule","color":"#707070","strokeWidth":0.9},"encoding":{"x2":{"field":"x2"},"y2":{"field":"y2"}}},
{"data":{"name":"notes"},"transform":[{"filter":"datum.p=='c'"}],"mark":{"type":"text","font":"Liberation Sans","fontSize":11.5,"color":"#555555","baseline":"middle"},"encoding":{"text":{"field":"t"}}},
{"data":{"name":"ind"},"mark":{"type":"rule","color":"#555555","strokeWidth":0.9},"encoding":{"x2":{"field":"x2"},"y2":{"field":"y2"}}},
{"data":{"name":"inddots"},"mark":{"type":"point","filled":true,"size":10,"color":"#222222","opacity":1}},
{"data":{"name":"indlab"},"mark":{"type":"text","align":"left","baseline":"middle","font":"Liberation Sans","fontSize":10.5,"color":"#666666"},"encoding":{"text":{"field":"t"}}},
{"data":{"name":"letters"},"transform":[{"filter":"datum.p=='c'"}],"mark":{"type":"text","font":"Lato","fontSize":35,"color":"#000000","baseline":"alphabetic"},"encoding":{"text":{"field":"t"}}},
{"data":{"name":"pts"},"transform":[{"filter":"datum.p=='c' && datum.g=='J'"}],"mark":{"type":"line","strokeWidth":0.8},"encoding":{"color":{"field":"s","type":"nominal","scale":{"domain":["-55.5","-45","-20","-8","22","45","55.5"],"range":["#333333","#ff3333","#22cc22","#2a2acc","#33dddd","#ee22bb","#ff9933"]}},"order":{"value":null}}},
{"data":{"name":"pts"},"transform":[{"filter":"datum.p=='c' && datum.g=='S'"}],"mark":{"type":"line","strokeWidth":2.2},"encoding":{"color":{"field":"s","type":"nominal","scale":{"domain":["-55.5","-45","-20","-8","22","45","55.5"],"range":["#333333","#ff3333","#22cc22","#2a2acc","#33dddd","#ee22bb","#ff9933"]}},"order":{"value":null}}},
{"data":{"name":"pts"},"transform":[{"filter":"datum.p=='c'"}],"mark":{"type":"point","filled":false,"size":22,"strokeWidth":1,"opacity":1},"encoding":{"color":{"field":"s","type":"nominal","scale":{"domain":["-55.5","-45","-20","-8","22","45","55.5"],"range":["#333333","#ff3333","#22cc22","#2a2acc","#33dddd","#ee22bb","#ff9933"]},"legend":{"title":null,"orient":"none","legendX":20.5,"legendY":329,"direction":"horizontal","strokeColor":"#8c8c8c","fillColor":"#ffffff","padding":2.5,"symbolSize":30,"symbolStrokeWidth":1,"labelFont":"Liberation Sans","labelFontSize":12.5,"labelColor":"#333333","columnPadding":7.5,"labelOffset":3}},"shape":{"field":"s","type":"nominal","scale":{"domain":["-55.5","-45","-20","-8","22","45","55.5"],"range":["diamond","triangle-up","square","M-1,-1L1,1M-1,1L1,-1","M-1,0L1,0M0,-1L0,1","M-1,-1L1,1M-1,1L1,-1M-1,0L1,0M0,-1L0,1","diamond"]},"legend":{"title":null,"orient":"none","legendX":20.5,"legendY":329,"direction":"horizontal","strokeColor":"#8c8c8c","fillColor":"#ffffff","padding":2.5,"symbolSize":30,"symbolStrokeWidth":1,"labelFont":"Liberation Sans","labelFontSize":12.5,"labelColor":"#333333","columnPadding":7.5,"labelOffset":3}}}}
]},
{"width":340,"height":340,
"encoding":{"x":{"field":"x","type":"quantitative","scale":{"domain":[-6.907,7.5],"nice":false,"zero":false},"axis":{"orient":"top","offset":-163,"title":null,"values":[-7,-6.5,-6,-5.5,-5,-4.5,-4,-3.5,-3,-2.5,-2,-1.5,-1,-0.5,0,0.5,1,1.5,2,2.5,3,3.5,4,4.5,5,5.5,6,6.5,7],"labelExpr":"datum.value % 2 == 0 ? replace(format(datum.value/100, '.2f'), '\u2212', '-') : ''","grid":false,"domainColor":"#7a7a7a","tickColor":"#7a7a7a","tickSize":3,"labelPadding":1,"labelFont":"Liberation Sans","labelFontSize":12,"labelColor":"#222222","labelFlush":false,"labelOverlap":false,"labelBound":false}},
"y":{"field":"y","type":"quantitative","scale":{"domain":[-7.5,6.907],"nice":false,"zero":false},"axis":{"orient":"right","offset":-177,"title":null,"values":[-7,-6.5,-6,-5.5,-5,-4.5,-4,-3.5,-3,-2.5,-2,-1.5,-1,-0.5,0,0.5,1,1.5,2,2.5,3,3.5,4,4.5,5,5.5,6,6.5,7],"labelExpr":"datum.value % 2 == 0 ? replace(format(datum.value/100, '.2f'), '\u2212', '-') : ''","grid":false,"domainColor":"#7a7a7a","tickColor":"#7a7a7a","tickSize":3,"labelPadding":1,"labelFont":"Liberation Sans","labelFontSize":12,"labelColor":"#222222","labelFlush":false,"labelOverlap":false,"labelBound":false}}},
"layer":[
{"data":{"name":"rings"},"mark":{"type":"arc","filled":false,"stroke":"#7f7f7f","strokeWidth":1,"theta":0,"theta2":6.2832},"encoding":{"radius":{"field":"r","type":"quantitative","stack":null,"scale":{"type":"linear","domain":[0,10],"range":[0,236],"zero":true,"nice":false}}}},
{"data":{"name":"stray"},"transform":[{"filter":"datum.p=='d'"}],"mark":{"type":"rule","color":"#dcdcdc","strokeWidth":1},"encoding":{"x2":{"field":"x2"},"y2":{"field":"y2"}}},
{"data":{"name":"letters"},"transform":[{"filter":"datum.p=='d'"}],"mark":{"type":"text","font":"Lato","fontSize":35,"color":"#000000","baseline":"alphabetic"},"encoding":{"text":{"field":"t"}}},
{"data":{"name":"pts"},"transform":[{"filter":"datum.p=='d'"}],"mark":{"type":"line","strokeWidth":1.2},"encoding":{"color":{"field":"s","type":"nominal","scale":{"domain":["-55.5","-45","-37","-30","-20","-15","-8","4","22","45","55.5"],"range":["#222222","#ff3333","#33dd33","#3333cc","#33dddd","#ee22bb","#ff9933","#aacc00","#33ccbb","#3388ee","#9955ee"]}},"order":{"value":null}}},
{"data":{"name":"pts"},"transform":[{"filter":"datum.p=='d'"}],"mark":{"type":"point","filled":false,"size":22,"strokeWidth":1,"opacity":1},"encoding":{"color":{"field":"s","type":"nominal","scale":{"domain":["-55.5","-45","-37","-30","-20","-15","-8","4","22","45","55.5"],"range":["#222222","#ff3333","#33dd33","#3333cc","#33dddd","#ee22bb","#ff9933","#aacc00","#33ccbb","#3388ee","#9955ee"]},"legend":{"title":null,"orient":"none","legendX":-63,"legendY":327,"direction":"horizontal","strokeColor":"#8c8c8c","fillColor":"#ffffff","padding":2.5,"symbolSize":30,"symbolStrokeWidth":1,"labelFont":"Liberation Sans","labelFontSize":12.5,"labelColor":"#333333","columnPadding":6.7,"labelOffset":3}},"shape":{"field":"s","type":"nominal","scale":{"domain":["-55.5","-45","-37","-30","-20","-15","-8","4","22","45","55.5"],"range":["diamond","triangle-up","square","M-1,-1L1,1M-1,1L1,-1","M-1,0L1,0M0,-1L0,1","M-1,-1L1,1M-1,1L1,-1M-1,0L1,0M0,-1L0,1","diamond","triangle-up","square","M-1,-1L1,1M-1,1L1,-1","M-1,0L1,0M0,-1L0,1"]},"legend":{"title":null,"orient":"none","legendX":-63,"legendY":327,"direction":"horizontal","strokeColor":"#8c8c8c","fillColor":"#ffffff","padding":2.5,"symbolSize":30,"symbolStrokeWidth":1,"labelFont":"Liberation Sans","labelFontSize":12.5,"labelColor":"#333333","columnPadding":6.7,"labelOffset":3}}}}
]},
{"width":340,"height":340,
"encoding":{"x":{"field":"x","type":"quantitative","scale":{"domain":[-7.203,7.203],"nice":false,"zero":false},"axis":{"orient":"top","offset":-170,"title":null,"values":[-7,-6.5,-6,-5.5,-5,-4.5,-4,-3.5,-3,-2.5,-2,-1.5,-1,-0.5,0,0.5,1,1.5,2,2.5,3,3.5,4,4.5,5,5.5,6,6.5,7],"labelExpr":"datum.value % 2 == 0 ? replace(format(datum.value/100, '.2f'), '\u2212', '-') : ''","grid":false,"domainColor":"#7a7a7a","tickColor":"#7a7a7a","tickSize":3,"labelPadding":1,"labelFont":"Liberation Sans","labelFontSize":12,"labelColor":"#222222","labelFlush":false,"labelOverlap":false,"labelBound":false}},
"y":{"field":"y","type":"quantitative","scale":{"domain":[-7.203,7.203],"nice":false,"zero":false},"axis":{"orient":"right","offset":-170,"title":null,"values":[-7,-6.5,-6,-5.5,-5,-4.5,-4,-3.5,-3,-2.5,-2,-1.5,-1,-0.5,0,0.5,1,1.5,2,2.5,3,3.5,4,4.5,5,5.5,6,6.5,7],"labelExpr":"datum.value % 2 == 0 ? replace(format(datum.value/100, '.2f'), '\u2212', '-') : ''","grid":false,"domainColor":"#7a7a7a","tickColor":"#7a7a7a","tickSize":3,"labelPadding":1,"labelFont":"Liberation Sans","labelFontSize":12,"labelColor":"#222222","labelFlush":false,"labelOverlap":false,"labelBound":false}}},
"layer":[
{"data":{"name":"rings"},"mark":{"type":"arc","filled":false,"stroke":"#7f7f7f","strokeWidth":1,"theta":0,"theta2":6.2832},"encoding":{"radius":{"field":"r","type":"quantitative","stack":null,"scale":{"type":"linear","domain":[0,10],"range":[0,236],"zero":true,"nice":false}}}},
{"data":{"name":"brk"},"transform":[{"filter":"datum.p=='e'"}],"mark":{"type":"rule","color":"#707070","strokeWidth":0.9},"encoding":{"x2":{"field":"x2"},"y2":{"field":"y2"}}},
{"data":{"name":"notes"},"transform":[{"filter":"datum.p=='e'"}],"mark":{"type":"text","font":"Liberation Sans","fontSize":11.5,"color":"#555555","baseline":"middle"},"encoding":{"text":{"field":"t"}}},
{"data":{"name":"ind"},"mark":{"type":"rule","color":"#555555","strokeWidth":0.9},"encoding":{"x2":{"field":"x2"},"y2":{"field":"y2"}}},
{"data":{"name":"inddots"},"mark":{"type":"point","filled":true,"size":10,"color":"#222222","opacity":1}},
{"data":{"name":"indlab"},"mark":{"type":"text","align":"left","baseline":"middle","font":"Liberation Sans","fontSize":10.5,"color":"#666666"},"encoding":{"text":{"field":"t"}}},
{"data":{"name":"letters"},"transform":[{"filter":"datum.p=='e'"}],"mark":{"type":"text","font":"Lato","fontSize":35,"color":"#000000","baseline":"alphabetic"},"encoding":{"text":{"field":"t"}}},
{"data":{"name":"pts"},"transform":[{"filter":"datum.p=='e' && datum.g=='J'"}],"mark":{"type":"line","strokeWidth":0.8},"encoding":{"color":{"field":"s","type":"nominal","scale":{"domain":["-55.5","-45","-20","-8","22","45","55.5"],"range":["#333333","#ff3333","#22cc22","#2a2acc","#33dddd","#ee22bb","#ff9933"]}},"order":{"value":null}}},
{"data":{"name":"pts"},"transform":[{"filter":"datum.p=='e' && datum.g=='S'"}],"mark":{"type":"line","strokeWidth":2.2},"encoding":{"color":{"field":"s","type":"nominal","scale":{"domain":["-55.5","-45","-20","-8","22","45","55.5"],"range":["#333333","#ff3333","#22cc22","#2a2acc","#33dddd","#ee22bb","#ff9933"]}},"order":{"value":null}}},
{"data":{"name":"pts"},"transform":[{"filter":"datum.p=='e'"}],"mark":{"type":"point","filled":false,"size":22,"strokeWidth":1,"opacity":1},"encoding":{"color":{"field":"s","type":"nominal","scale":{"domain":["-55.5","-45","-20","-8","22","45","55.5"],"range":["#333333","#ff3333","#22cc22","#2a2acc","#33dddd","#ee22bb","#ff9933"]},"legend":{"title":null,"orient":"none","legendX":19.5,"legendY":329,"direction":"horizontal","strokeColor":"#8c8c8c","fillColor":"#ffffff","padding":2.5,"symbolSize":30,"symbolStrokeWidth":1,"labelFont":"Liberation Sans","labelFontSize":12.5,"labelColor":"#333333","columnPadding":7.5,"labelOffset":3}},"shape":{"field":"s","type":"nominal","scale":{"domain":["-55.5","-45","-20","-8","22","45","55.5"],"range":["diamond","triangle-up","square","M-1,-1L1,1M-1,1L1,-1","M-1,0L1,0M0,-1L0,1","M-1,-1L1,1M-1,1L1,-1M-1,0L1,0M0,-1L0,1","diamond"]},"legend":{"title":null,"orient":"none","legendX":19.5,"legendY":329,"direction":"horizontal","strokeColor":"#8c8c8c","fillColor":"#ffffff","padding":2.5,"symbolSize":30,"symbolStrokeWidth":1,"labelFont":"Liberation Sans","labelFontSize":12.5,"labelColor":"#333333","columnPadding":7.5,"labelOffset":3}}}}
]},
{"width":340,"height":340,
"encoding":{"x":{"field":"x","type":"quantitative","scale":{"domain":[-7.246,7.161],"nice":false,"zero":false},"axis":{"orient":"top","offset":-175,"title":null,"values":[-7,-6.5,-6,-5.5,-5,-4.5,-4,-3.5,-3,-2.5,-2,-1.5,-1,-0.5,0,0.5,1,1.5,2,2.5,3,3.5,4,4.5,5,5.5,6,6.5,7],"labelExpr":"datum.value % 2 == 0 ? replace(format(datum.value/100, '.2f'), '\u2212', '-') : ''","grid":false,"domainColor":"#7a7a7a","tickColor":"#7a7a7a","tickSize":3,"labelPadding":1,"labelFont":"Liberation Sans","labelFontSize":12,"labelColor":"#222222","labelFlush":false,"labelOverlap":false,"labelBound":false}},
"y":{"field":"y","type":"quantitative","scale":{"domain":[-6.992,7.415],"nice":false,"zero":false},"axis":{"orient":"right","offset":-169,"title":null,"values":[-7,-6.5,-6,-5.5,-5,-4.5,-4,-3.5,-3,-2.5,-2,-1.5,-1,-0.5,0,0.5,1,1.5,2,2.5,3,3.5,4,4.5,5,5.5,6,6.5,7],"labelExpr":"datum.value % 2 == 0 ? replace(format(datum.value/100, '.2f'), '\u2212', '-') : ''","grid":false,"domainColor":"#7a7a7a","tickColor":"#7a7a7a","tickSize":3,"labelPadding":1,"labelFont":"Liberation Sans","labelFontSize":12,"labelColor":"#222222","labelFlush":false,"labelOverlap":false,"labelBound":false}}},
"layer":[
{"data":{"name":"rings"},"mark":{"type":"arc","filled":false,"stroke":"#7f7f7f","strokeWidth":1,"theta":0,"theta2":6.2832},"encoding":{"radius":{"field":"r","type":"quantitative","stack":null,"scale":{"type":"linear","domain":[0,10],"range":[0,236],"zero":true,"nice":false}}}},
{"data":{"name":"stray"},"transform":[{"filter":"datum.p=='f'"}],"mark":{"type":"rule","color":"#dcdcdc","strokeWidth":1},"encoding":{"x2":{"field":"x2"},"y2":{"field":"y2"}}},
{"data":{"name":"letters"},"transform":[{"filter":"datum.p=='f'"}],"mark":{"type":"text","font":"Lato","fontSize":35,"color":"#000000","baseline":"alphabetic"},"encoding":{"text":{"field":"t"}}},
{"data":{"name":"pts"},"transform":[{"filter":"datum.p=='f'"}],"mark":{"type":"line","strokeWidth":1.2},"encoding":{"color":{"field":"s","type":"nominal","scale":{"domain":["-55.5","-45","-37","-30","-20","-15","-8","4","22","45","55.5"],"range":["#222222","#ff3333","#33dd33","#3333cc","#33dddd","#ee22bb","#ff9933","#aacc00","#33ccbb","#3388ee","#9955ee"]}},"order":{"value":null}}},
{"data":{"name":"pts"},"transform":[{"filter":"datum.p=='f'"}],"mark":{"type":"point","filled":false,"size":22,"strokeWidth":1,"opacity":1},"encoding":{"color":{"field":"s","type":"nominal","scale":{"domain":["-55.5","-45","-37","-30","-20","-15","-8","4","22","45","55.5"],"range":["#222222","#ff3333","#33dd33","#3333cc","#33dddd","#ee22bb","#ff9933","#aacc00","#33ccbb","#3388ee","#9955ee"]},"legend":{"title":null,"orient":"none","legendX":-60,"legendY":339,"direction":"horizontal","strokeColor":"#8c8c8c","fillColor":"#ffffff","padding":2.5,"symbolSize":30,"symbolStrokeWidth":1,"labelFont":"Liberation Sans","labelFontSize":12.5,"labelColor":"#333333","columnPadding":6.7,"labelOffset":3}},"shape":{"field":"s","type":"nominal","scale":{"domain":["-55.5","-45","-37","-30","-20","-15","-8","4","22","45","55.5"],"range":["diamond","triangle-up","square","M-1,-1L1,1M-1,1L1,-1","M-1,0L1,0M0,-1L0,1","M-1,-1L1,1M-1,1L1,-1M-1,0L1,0M0,-1L0,1","diamond","triangle-up","square","M-1,-1L1,1M-1,1L1,-1","M-1,0L1,0M0,-1L0,1"]},"legend":{"title":null,"orient":"none","legendX":-60,"legendY":339,"direction":"horizontal","strokeColor":"#8c8c8c","fillColor":"#ffffff","padding":2.5,"symbolSize":30,"symbolStrokeWidth":1,"labelFont":"Liberation Sans","labelFontSize":12.5,"labelColor":"#333333","columnPadding":6.7,"labelOffset":3}}}}
]},
{"width":340,"height":340,
"encoding":{"x":{"field":"x","type":"quantitative","scale":{"domain":[-7.203,7.203],"nice":false,"zero":false},"axis":{"orient":"top","offset":-169,"title":null,"values":[-7,-6.5,-6,-5.5,-5,-4.5,-4,-3.5,-3,-2.5,-2,-1.5,-1,-0.5,0,0.5,1,1.5,2,2.5,3,3.5,4,4.5,5,5.5,6,6.5,7],"labelExpr":"datum.value % 2 == 0 ? replace(format(datum.value/100, '.2f'), '\u2212', '-') : ''","grid":false,"domainColor":"#7a7a7a","tickColor":"#7a7a7a","tickSize":3,"labelPadding":1,"labelFont":"Liberation Sans","labelFontSize":12,"labelColor":"#222222","labelFlush":false,"labelOverlap":false,"labelBound":false}},
"y":{"field":"y","type":"quantitative","scale":{"domain":[-7.246,7.161],"nice":false,"zero":false},"axis":{"orient":"right","offset":-170,"title":null,"values":[-7,-6.5,-6,-5.5,-5,-4.5,-4,-3.5,-3,-2.5,-2,-1.5,-1,-0.5,0,0.5,1,1.5,2,2.5,3,3.5,4,4.5,5,5.5,6,6.5,7],"labelExpr":"datum.value % 2 == 0 ? replace(format(datum.value/100, '.2f'), '\u2212', '-') : ''","grid":false,"domainColor":"#7a7a7a","tickColor":"#7a7a7a","tickSize":3,"labelPadding":1,"labelFont":"Liberation Sans","labelFontSize":12,"labelColor":"#222222","labelFlush":false,"labelOverlap":false,"labelBound":false}}},
"layer":[
{"data":{"name":"rings"},"mark":{"type":"arc","filled":false,"stroke":"#7f7f7f","strokeWidth":1,"theta":0,"theta2":6.2832},"encoding":{"radius":{"field":"r","type":"quantitative","stack":null,"scale":{"type":"linear","domain":[0,10],"range":[0,236],"zero":true,"nice":false}}}},
{"data":{"name":"brk"},"transform":[{"filter":"datum.p=='g'"}],"mark":{"type":"rule","color":"#707070","strokeWidth":0.9},"encoding":{"x2":{"field":"x2"},"y2":{"field":"y2"}}},
{"data":{"name":"notes"},"transform":[{"filter":"datum.p=='g'"}],"mark":{"type":"text","font":"Liberation Sans","fontSize":11.5,"color":"#555555","baseline":"middle"},"encoding":{"text":{"field":"t"}}},
{"data":{"name":"ind"},"mark":{"type":"rule","color":"#555555","strokeWidth":0.9},"encoding":{"x2":{"field":"x2"},"y2":{"field":"y2"}}},
{"data":{"name":"inddots"},"mark":{"type":"point","filled":true,"size":10,"color":"#222222","opacity":1}},
{"data":{"name":"indlab"},"mark":{"type":"text","align":"left","baseline":"middle","font":"Liberation Sans","fontSize":10.5,"color":"#666666"},"encoding":{"text":{"field":"t"}}},
{"data":{"name":"letters"},"transform":[{"filter":"datum.p=='g'"}],"mark":{"type":"text","font":"Lato","fontSize":35,"color":"#000000","baseline":"alphabetic"},"encoding":{"text":{"field":"t"}}},
{"data":{"name":"pts"},"transform":[{"filter":"datum.p=='g' && datum.g=='J'"}],"mark":{"type":"line","strokeWidth":0.8},"encoding":{"color":{"field":"s","type":"nominal","scale":{"domain":["-55.5","-45","-20","-8","22","45","55.5"],"range":["#333333","#ff3333","#22cc22","#2a2acc","#33dddd","#ee22bb","#ff9933"]}},"order":{"value":null}}},
{"data":{"name":"pts"},"transform":[{"filter":"datum.p=='g' && datum.g=='S'"}],"mark":{"type":"line","strokeWidth":2.2},"encoding":{"color":{"field":"s","type":"nominal","scale":{"domain":["-55.5","-45","-20","-8","22","45","55.5"],"range":["#333333","#ff3333","#22cc22","#2a2acc","#33dddd","#ee22bb","#ff9933"]}},"order":{"value":null}}},
{"data":{"name":"pts"},"transform":[{"filter":"datum.p=='g'"}],"mark":{"type":"point","filled":false,"size":22,"strokeWidth":1,"opacity":1},"encoding":{"color":{"field":"s","type":"nominal","scale":{"domain":["-55.5","-45","-20","-8","22","45","55.5"],"range":["#333333","#ff3333","#22cc22","#2a2acc","#33dddd","#ee22bb","#ff9933"]},"legend":{"title":null,"orient":"none","legendX":19.5,"legendY":337,"direction":"horizontal","strokeColor":"#8c8c8c","fillColor":"#ffffff","padding":2.5,"symbolSize":30,"symbolStrokeWidth":1,"labelFont":"Liberation Sans","labelFontSize":12.5,"labelColor":"#333333","columnPadding":7.5,"labelOffset":3}},"shape":{"field":"s","type":"nominal","scale":{"domain":["-55.5","-45","-20","-8","22","45","55.5"],"range":["diamond","triangle-up","square","M-1,-1L1,1M-1,1L1,-1","M-1,0L1,0M0,-1L0,1","M-1,-1L1,1M-1,1L1,-1M-1,0L1,0M0,-1L0,1","diamond"]},"legend":{"title":null,"orient":"none","legendX":19.5,"legendY":337,"direction":"horizontal","strokeColor":"#8c8c8c","fillColor":"#ffffff","padding":2.5,"symbolSize":30,"symbolStrokeWidth":1,"labelFont":"Liberation Sans","labelFontSize":12.5,"labelColor":"#333333","columnPadding":7.5,"labelOffset":3}}}}
]},
{"width":340,"height":340,
"encoding":{"x":{"field":"x","type":"quantitative","scale":{"domain":[-7.585,6.822],"nice":false,"zero":false},"axis":{"orient":"top","offset":-173,"title":null,"values":[-7,-6.5,-6,-5.5,-5,-4.5,-4,-3.5,-3,-2.5,-2,-1.5,-1,-0.5,0,0.5,1,1.5,2,2.5,3,3.5,4,4.5,5,5.5,6,6.5,7],"labelExpr":"datum.value % 2 == 0 ? replace(format(datum.value/100, '.2f'), '\u2212', '-') : ''","grid":false,"domainColor":"#7a7a7a","tickColor":"#7a7a7a","tickSize":3,"labelPadding":1,"labelFont":"Liberation Sans","labelFontSize":12,"labelColor":"#222222","labelFlush":false,"labelOverlap":false,"labelBound":false}},
"y":{"field":"y","type":"quantitative","scale":{"domain":[-7.076,7.331],"nice":false,"zero":false},"axis":{"orient":"right","offset":-161,"title":null,"values":[-7,-6.5,-6,-5.5,-5,-4.5,-4,-3.5,-3,-2.5,-2,-1.5,-1,-0.5,0,0.5,1,1.5,2,2.5,3,3.5,4,4.5,5,5.5,6,6.5,7],"labelExpr":"datum.value % 2 == 0 ? replace(format(datum.value/100, '.2f'), '\u2212', '-') : ''","grid":false,"domainColor":"#7a7a7a","tickColor":"#7a7a7a","tickSize":3,"labelPadding":1,"labelFont":"Liberation Sans","labelFontSize":12,"labelColor":"#222222","labelFlush":false,"labelOverlap":false,"labelBound":false}}},
"layer":[
{"data":{"name":"rings"},"mark":{"type":"arc","filled":false,"stroke":"#7f7f7f","strokeWidth":1,"theta":0,"theta2":6.2832},"encoding":{"radius":{"field":"r","type":"quantitative","stack":null,"scale":{"type":"linear","domain":[0,10],"range":[0,236],"zero":true,"nice":false}}}},
{"data":{"name":"stray"},"transform":[{"filter":"datum.p=='h'"}],"mark":{"type":"rule","color":"#dcdcdc","strokeWidth":1},"encoding":{"x2":{"field":"x2"},"y2":{"field":"y2"}}},
{"data":{"name":"letters"},"transform":[{"filter":"datum.p=='h'"}],"mark":{"type":"text","font":"Lato","fontSize":35,"color":"#000000","baseline":"alphabetic"},"encoding":{"text":{"field":"t"}}},
{"data":{"name":"pts"},"transform":[{"filter":"datum.p=='h'"}],"mark":{"type":"line","strokeWidth":1.2},"encoding":{"color":{"field":"s","type":"nominal","scale":{"domain":["-55.5","-45","-37","-30","-20","-15","-8","4","22","45","55.5"],"range":["#222222","#ff3333","#33dd33","#3333cc","#33dddd","#ee22bb","#ff9933","#aacc00","#33ccbb","#3388ee","#9955ee"]}},"order":{"value":null}}},
{"data":{"name":"pts"},"transform":[{"filter":"datum.p=='h'"}],"mark":{"type":"point","filled":false,"size":22,"strokeWidth":1,"opacity":1},"encoding":{"color":{"field":"s","type":"nominal","scale":{"domain":["-55.5","-45","-37","-30","-20","-15","-8","4","22","45","55.5"],"range":["#222222","#ff3333","#33dd33","#3333cc","#33dddd","#ee22bb","#ff9933","#aacc00","#33ccbb","#3388ee","#9955ee"]},"legend":{"title":null,"orient":"none","legendX":-55,"legendY":337,"direction":"horizontal","strokeColor":"#8c8c8c","fillColor":"#ffffff","padding":2.5,"symbolSize":30,"symbolStrokeWidth":1,"labelFont":"Liberation Sans","labelFontSize":12.5,"labelColor":"#333333","columnPadding":6.7,"labelOffset":3}},"shape":{"field":"s","type":"nominal","scale":{"domain":["-55.5","-45","-37","-30","-20","-15","-8","4","22","45","55.5"],"range":["diamond","triangle-up","square","M-1,-1L1,1M-1,1L1,-1","M-1,0L1,0M0,-1L0,1","M-1,-1L1,1M-1,1L1,-1M-1,0L1,0M0,-1L0,1","diamond","triangle-up","square","M-1,-1L1,1M-1,1L1,-1","M-1,0L1,0M0,-1L0,1"]},"legend":{"title":null,"orient":"none","legendX":-55,"legendY":337,"direction":"horizontal","strokeColor":"#8c8c8c","fillColor":"#ffffff","padding":2.5,"symbolSize":30,"symbolStrokeWidth":1,"labelFont":"Liberation Sans","labelFontSize":12.5,"labelColor":"#333333","columnPadding":6.7,"labelOffset":3}}}}
]}
]
}
